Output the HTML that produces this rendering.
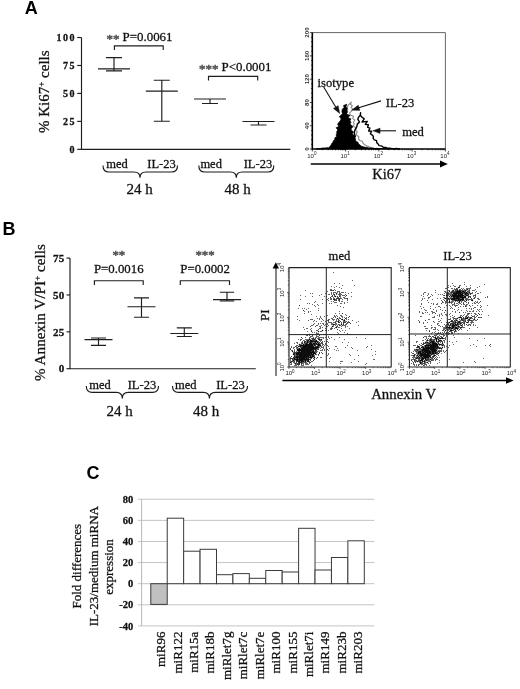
<!DOCTYPE html>
<html><head><meta charset="utf-8"><title>Figure</title>
<style>html,body{margin:0;padding:0;background:#fff;}svg{display:block;}</style></head>
<body><svg width="520" height="689" viewBox="0 0 520 689">
<rect width="520" height="689" fill="#fff"/>
<text x="24.8" y="14.4" font-family="Liberation Sans, sans-serif" font-weight="bold" font-size="18" fill="#000">A</text>
<text x="2.6" y="234.8" font-family="Liberation Sans, sans-serif" font-weight="bold" font-size="18" fill="#000">B</text>
<text x="86.6" y="479.4" font-family="Liberation Sans, sans-serif" font-weight="bold" font-size="18" fill="#000">C</text>
<g stroke="#1e1e1e" stroke-width="1.15" fill="none">
<path d="M81.5 37.52V149.35H290.3"/>
<path d="M77.2 149.35H81.5"/>
<path d="M77.2 121.39H81.5"/>
<path d="M77.2 93.43H81.5"/>
<path d="M77.2 65.48H81.5"/>
<path d="M77.2 37.52H81.5"/>
<path d="M98 68.8H130M114 57.6V70.8M106 57.6H122M106 70.8H122"/>
<path d="M145.8 91.1H177.8M161.8 80.2V121.2M153.8 80.2H169.8M153.8 121.2H169.8"/>
<path d="M194 99H226M210 99V103.5M202 99H218M202 103.5H218"/>
<path d="M242.5 121.5H274.5M258.5 121.5V125M250.5 121.5H266.5M250.5 125H266.5"/>
<path d="M114.4 50V45.8H163.2V50"/>
<path d="M208.5 80.4V76.3H257.7V80.4"/>
</g>
<g font-family="Liberation Serif, serif" font-weight="bold" font-size="10" letter-spacing="1.5" fill="#111" stroke="#111" stroke-width="0.28" text-anchor="end">
<text x="76" y="152.85">0</text>
<text x="76" y="124.89">25</text>
<text x="76" y="96.93">50</text>
<text x="76" y="68.98">75</text>
<text x="76" y="41.02">100</text>
</g>
<text transform="translate(48.6 133) rotate(-90)" font-family="Liberation Serif, serif" font-size="15" fill="#111" stroke="#111" stroke-width="0.28">% Ki67<tspan font-size="9" dy="-5">+</tspan><tspan dy="5"> cells</tspan></text>
<g font-family="Liberation Serif, serif" font-size="12.9" fill="#111" stroke="#111" stroke-width="0.28">
<text x="106.5" y="41.3"><tspan fill="#555" stroke="#555" stroke-width="0.55" dy="1.5">**</tspan><tspan dy="-1.5"> P=0.0061</tspan></text>
<text x="199" y="71.2"><tspan fill="#555" stroke="#555" stroke-width="0.55" dy="1.5">***</tspan><tspan dy="-1.5"> P&lt;0.0001</tspan></text>
</g>
<g stroke="#1a1a1a" stroke-width="1.15" fill="none">
<path d="M103 165.5Q103 172 109 172H134Q140 172 140 177.8Q140 172 146 172H171.5Q177.5 172 177.5 165.5"/>
<path d="M198.8 165.5Q198.8 172 204.8 172H230.3Q236.3 172 236.3 177.8Q236.3 172 242.3 172H267.8Q273.8 172 273.8 165.5"/>
</g>
<g font-family="Liberation Serif, serif" font-size="12.5" fill="#111" stroke="#111" stroke-width="0.28">
<text x="106.3" y="167.7">med</text><text x="147.3" y="167.7">IL-23</text>
<text x="200.4" y="167.7">med</text><text x="243.7" y="167.7">IL-23</text>
</g>
<g font-family="Liberation Serif, serif" font-size="15" fill="#111" stroke="#111" stroke-width="0.28">
<text x="126.5" y="193.5">24 h</text><text x="224.4" y="193.5">48 h</text>
</g>
<g stroke="#1e1e1e" stroke-width="1.15" fill="none">
<path d="M70 258.1V368.7H255.8"/>
<path d="M66.5 368.7H70"/>
<path d="M66.5 331.83H70"/>
<path d="M66.5 294.96H70"/>
<path d="M66.5 258.1H70"/>
<path d="M84.5 339.6H112.5M98.5 338V345.3M91 338H106M91 345.3H106"/>
<path d="M127.5 306.7H155.5M141.5 297.9V317.2M134 297.9H149M134 317.2H149"/>
<path d="M170.3 333.5H198.3M184.3 327.8V336.5M176.8 327.8H191.8M176.8 336.5H191.8"/>
<path d="M213 299.6H241M227 292.2V301M219.8 292.2H234.2M219.8 301H234.2"/>
<path d="M94.4 285V280.7H143.2V285"/>
<path d="M180.3 285V280.7H229.5V285"/>
</g>
<g font-family="Liberation Serif, serif" font-weight="bold" font-size="11" letter-spacing="0.3" fill="#111" stroke="#111" stroke-width="0.28" text-anchor="end">
<text x="64.6" y="372.4">0</text>
<text x="64.6" y="335.53">25</text>
<text x="64.6" y="298.66">50</text>
<text x="64.6" y="261.8">75</text>
</g>
<text transform="translate(45.3 381) rotate(-90)" font-family="Liberation Serif, serif" font-size="15.2" fill="#111" stroke="#111" stroke-width="0.28">% Annexin V/PI<tspan font-size="9" dy="-5">+</tspan><tspan dy="5"> cells</tspan></text>
<g font-family="Liberation Serif, serif" font-size="12.8" fill="#111" stroke="#111" stroke-width="0.28">
<text x="112.4" y="259" fill="#555" stroke="#555" stroke-width="0.55">**</text>
<text x="94" y="272.5">P=0.0016</text>
<text x="195.4" y="259" fill="#555" stroke="#555" stroke-width="0.55">***</text>
<text x="180.3" y="272.5">P=0.0002</text>
</g>
<g stroke="#1a1a1a" stroke-width="1.15" fill="none">
<path d="M86.3 386Q86.3 392.4 92.3 392.4H116.3Q122.3 392.4 122.3 398.5Q122.3 392.4 128.3 392.4H152.5Q158.5 392.4 158.5 386"/>
<path d="M172.5 386Q172.5 392.4 178.5 392.4H203.4Q209.4 392.4 209.4 398.5Q209.4 392.4 215.4 392.4H241.5Q247.5 392.4 247.5 386"/>
</g>
<g font-family="Liberation Serif, serif" font-size="12.5" fill="#111" stroke="#111" stroke-width="0.28">
<text x="89.2" y="388.5">med</text><text x="127.7" y="388.5">IL-23</text>
<text x="175" y="388.5">med</text><text x="216.2" y="388.5">IL-23</text>
</g>
<g font-family="Liberation Serif, serif" font-size="15" fill="#111" stroke="#111" stroke-width="0.28">
<text x="106.5" y="416">24 h</text><text x="193" y="416">48 h</text>
</g>
<path d="M312.3 32.6H445.4V149" stroke="#666" stroke-width="1" fill="none"/>
<path d="M309.8 149H312.3M311 144.34H312.3M311 139.69H312.3M311 135.03H312.3M311 130.38H312.3M309.8 125.72H312.3M311 121.06H312.3M311 116.41H312.3M311 111.75H312.3M311 107.1H312.3M309.8 102.44H312.3M311 97.78H312.3M311 93.13H312.3M311 88.47H312.3M311 83.82H312.3M309.8 79.16H312.3M311 74.5H312.3M311 69.85H312.3M311 65.19H312.3M311 60.54H312.3M309.8 55.88H312.3M311 51.22H312.3M311 46.57H312.3M311 41.91H312.3M311 37.26H312.3M309.8 32.6H312.3M312.3 149V151.5M322.32 149V150.3M328.18 149V150.3M332.33 149V150.3M335.56 149V150.3M338.19 149V150.3M340.42 149V150.3M342.35 149V150.3M344.05 149V150.3M345.57 149V151.5M355.59 149V150.3M361.45 149V150.3M365.61 149V150.3M368.83 149V150.3M371.47 149V150.3M373.7 149V150.3M375.63 149V150.3M377.33 149V150.3M378.85 149V151.5M388.87 149V150.3M394.73 149V150.3M398.88 149V150.3M402.11 149V150.3M404.74 149V150.3M406.97 149V150.3M408.9 149V150.3M410.6 149V150.3M412.12 149V151.5M422.14 149V150.3M428 149V150.3M432.16 149V150.3M435.38 149V150.3M438.02 149V150.3M440.25 149V150.3M442.18 149V150.3M443.88 149V150.3M445.4 149V151.5" stroke="#222" stroke-width="0.8" fill="none"/>
<text transform="translate(308.9 149) rotate(-90)" font-family="Liberation Sans, sans-serif" font-size="6.2" font-weight="bold" text-anchor="middle" fill="#333">0</text>
<text transform="translate(308.9 125.72) rotate(-90)" font-family="Liberation Sans, sans-serif" font-size="6.2" font-weight="bold" text-anchor="middle" fill="#333">40</text>
<text transform="translate(308.9 102.44) rotate(-90)" font-family="Liberation Sans, sans-serif" font-size="6.2" font-weight="bold" text-anchor="middle" fill="#333">80</text>
<text transform="translate(308.9 79.16) rotate(-90)" font-family="Liberation Sans, sans-serif" font-size="6.2" font-weight="bold" text-anchor="middle" fill="#333">120</text>
<text transform="translate(308.9 55.88) rotate(-90)" font-family="Liberation Sans, sans-serif" font-size="6.2" font-weight="bold" text-anchor="middle" fill="#333">160</text>
<text transform="translate(308.9 32.6) rotate(-90)" font-family="Liberation Sans, sans-serif" font-size="6.2" font-weight="bold" text-anchor="middle" fill="#333">200</text>
<text x="311.8" y="157.8" font-family="Liberation Sans, sans-serif" font-size="6" text-anchor="middle" fill="#222">10<tspan font-size="4.5" dy="-2.4">0</tspan></text>
<text x="345.07" y="157.8" font-family="Liberation Sans, sans-serif" font-size="6" text-anchor="middle" fill="#222">10<tspan font-size="4.5" dy="-2.4">1</tspan></text>
<text x="378.35" y="157.8" font-family="Liberation Sans, sans-serif" font-size="6" text-anchor="middle" fill="#222">10<tspan font-size="4.5" dy="-2.4">2</tspan></text>
<text x="411.62" y="157.8" font-family="Liberation Sans, sans-serif" font-size="6" text-anchor="middle" fill="#222">10<tspan font-size="4.5" dy="-2.4">3</tspan></text>
<text x="444.9" y="157.8" font-family="Liberation Sans, sans-serif" font-size="6" text-anchor="middle" fill="#222">10<tspan font-size="4.5" dy="-2.4">4</tspan></text>
<path d="M330 148.96 L331.5 148.3 L333 147.84 L334.47 146.7 L335.94 145.95 L336.71 144.35 L336.99 142.53 L337.71 140.88 L338.25 139.17 L339.82 137.86 L339.21 135.74 L340.88 134.4 L340.61 132.51 L342.33 131.12 L339.97 128.71 L344.96 128.13 L342.59 125.72 L344.74 124.44 L342.59 122.08 L344.08 120.63 L343.39 118.63 L346.29 117.54 L344.65 115.31 L346.65 113.98 L345.62 111.89 L347.14 110.53 L346.76 108.54 L347.44 106.89 L348.13 105.26 L350.28 103.22 L351.3 102.09 L350.58 104.44 L352.33 105.71 L351.14 107.64 L352.88 109.04 L351.67 110.89 L349.76 112.9 L350.23 114.93 L353.43 116.37 L352.8 118.58 L354.88 120.06 L353.33 122.31 L354.31 124.02 L352.96 126.11 L355.19 127.34 L356.3 128.83 L355.66 130.65 L357.37 131.89 L356.07 133.98 L357.1 135.55 L358.85 136.68 L358.58 138.9 L359.92 140.54 L362.39 141.18 L363.04 143.26 L364.27 144.35 L365.73 145.15 L367.04 146.13 L368.75 146.65 L370.33 147.35 L372 147.87 L373.6 148.23 L375.2 148.89 L376.8 148.89 L378.4 148.53 L380 148.8" stroke="#8a8a8a" stroke-width="1.1" fill="none" stroke-linejoin="round"/>
<path d="M316 148.98 L317.75 148.98 L319.5 148.83 L321.25 148.26 L323 148.01 L325.07 148.03 L327.13 147.69 L329.2 147.85 L330.09 146.22 L331.17 144.99 L331.77 143.5 L332.94 142.3 L333.43 140.74 L334.83 139.53 L334.86 137.78 L336.79 136.61 L336.19 134.8 L336.92 133.34 L336.72 131.64 L337.83 130.05 L336.19 127.68 L338.99 126.51 L337.6 124.15 L338.94 122.43 L340.3 120.82 L341.24 118.88 L339.43 116.55 L341.32 115.12 L342.52 113.55 L341.92 111.62 L342.32 109.27 L344.09 107.44 L343.64 105.45 L344.87 105.08 L346.6 104.26 L346 106.66 L347.37 108.23 L346.82 110.28 L347.47 112.03 L346.21 114.32 L349.86 115.25 L348.03 117.7 L350.95 118.88 L349.86 120.81 L350.98 122.25 L349.83 124.14 L351.77 125.42 L352.73 126.89 L350.89 128.95 L351.6 130.62 L353.55 131.89 L351.82 134.25 L354.38 135.25 L354.83 137.31 L355.44 139.36 L355.88 141.59 L357.91 142.14 L358.41 144.09 L360.02 144.93 L361.23 146.15 L363.07 146.79 L364.97 147.21 L366.9 147.49 L368.8 148.02 L370.4 147.89 L372 148.17 L373.6 148.25 L375.2 148.67 L376.8 148.25 L378.4 148.73 L380 148.54 L381.67 148.99 L383.33 148.5 L385 148.72 L386.67 148.81 L388.33 149 L390 148.64Z" stroke="#000" stroke-width="0.8" fill="#000"/>
<path d="M340 148.81 L341.75 149 L343.5 149 L345.25 149 L347 148.45 L348.83 148.25 L350.67 147.95 L352.5 147.78 L352.56 146.08 L352.96 144.21 L352.49 142.24 L353.62 140.43 L352.82 138.4 L355.39 136.37 L354.4 133.7 L354.47 131.16 L355.48 128.82 L356.84 126.62 L357.28 124.12 L359.53 122.07 L357.76 119.18 L358.69 117 L360.15 115.51 L360.56 112.78 L360.46 115.58 L361.87 117.08 L364.26 118.78 L362.07 121.97 L367.29 121.35 L365.26 124.4 L368.36 124.77 L367.61 127.35 L369.97 128.06 L368.58 131.09 L371.59 131.28 L370.36 133.72 L372.03 134.91 L373.36 136.17 L373.17 138.4 L374.33 139.88 L376.51 140.6 L376.82 142.65 L378.07 143.97 L379.14 145.57 L381.46 145.93 L383.26 147.21 L385.65 147.46 L388 148.32 L389.71 148.2 L391.43 148.47 L393.14 148.68 L394.86 148.62 L396.57 148.5 L398.29 148.89 L400 148.79" stroke="#000" stroke-width="1.4" fill="none" stroke-linejoin="round"/>
<path d="M312.3 32.6V149H445.4" stroke="#000" stroke-width="1.6" fill="none"/>
<g font-family="Liberation Serif, serif" font-size="12.6" fill="#111" stroke="#111" stroke-width="0.28"><text x="317.6" y="86.5">isotype</text><text x="385.7" y="106.6">IL-23</text><text x="402.2" y="136">med</text></g>
<g stroke="#111" stroke-width="1.1" fill="none"><path d="M323.7 87L336 107.5"/><path d="M381 100.9L357 108.3"/><path d="M396 130.8H378"/></g>
<path d="M339.9 113.8L333.37 108.4L338.16 105.51Z" fill="#111" stroke="#111" stroke-width="0.28"/>
<path d="M351.5 110.2L358.29 105.12L359.97 110.47Z" fill="#111" stroke="#111" stroke-width="0.28"/>
<path d="M372.6 130.8L380.1 128L380.1 133.6Z" fill="#111" stroke="#111" stroke-width="0.28"/>
<path d="M310.8 164H442" stroke="#000" stroke-width="1.5"/>
<path d="M447.8 164L440 160.6V167.4Z" fill="#000"/>
<text x="372.2" y="178.6" font-family="Liberation Serif, serif" font-size="14.5" fill="#111" stroke="#111" stroke-width="0.28">Ki67</text>
<defs><filter id="bl" x="-5%" y="-5%" width="110%" height="110%"><feGaussianBlur stdDeviation="0.4"/></filter></defs>
<g filter="url(#bl)"><path fill="#111" stroke="#111" stroke-width="0.28" d="M309 355h1v1h-1zM303 359h1v1h-1zM303 352h1v1h-1zM317 342h1v1h-1zM307 354h1v1h-1zM312 345h1v1h-1zM306 345h1v1h-1zM302 352h1v1h-1zM293 354h1v1h-1zM295 359h1v1h-1zM303 351h1v1h-1zM302 347h1v1h-1zM306 352h1v1h-1zM307 345h1v1h-1zM306 349h1v1h-1zM309 350h1v1h-1zM311 345h1v1h-1zM300 353h1v1h-1zM300 356h1v1h-1zM304 359h1v1h-1zM309 334h1v1h-1zM302 351h1v1h-1zM309 343h1v1h-1zM303 350h1v1h-1zM306 344h1v1h-1zM306 353h1v1h-1zM317 346h1v1h-1zM303 355h1v1h-1zM307 359h1v1h-1zM306 350h1v1h-1zM302 350h1v1h-1zM304 352h1v1h-1zM310 352h1v1h-1zM302 353h1v1h-1zM318 343h1v1h-1zM308 345h1v1h-1zM299 358h1v1h-1zM298 353h1v1h-1zM296 357h1v1h-1zM310 344h1v1h-1zM299 361h1v1h-1zM308 353h1v1h-1zM312 344h1v1h-1zM301 359h1v1h-1zM314 345h1v1h-1zM299 353h1v1h-1zM301 351h1v1h-1zM298 349h1v1h-1zM307 350h1v1h-1zM292 351h1v1h-1zM308 355h1v1h-1zM300 354h1v1h-1zM304 356h1v1h-1zM306 356h1v1h-1zM305 350h1v1h-1zM295 357h1v1h-1zM306 355h1v1h-1zM305 348h1v1h-1zM305 356h1v1h-1zM306 346h1v1h-1zM306 348h1v1h-1zM307 352h1v1h-1zM301 354h1v1h-1zM304 342h1v1h-1zM309 352h1v1h-1zM304 345h1v1h-1zM305 347h1v1h-1zM310 350h1v1h-1zM304 348h1v1h-1zM304 357h1v1h-1zM302 358h1v1h-1zM307 348h1v1h-1zM319 339h1v1h-1zM308 347h1v1h-1zM300 346h1v1h-1zM299 352h1v1h-1zM307 355h1v1h-1zM310 342h1v1h-1zM313 338h1v1h-1zM310 351h1v1h-1zM311 357h1v1h-1zM305 355h1v1h-1zM314 352h1v1h-1zM305 351h1v1h-1zM310 348h1v1h-1zM308 356h1v1h-1zM301 358h1v1h-1zM309 349h1v1h-1zM308 351h1v1h-1zM313 348h1v1h-1zM299 354h1v1h-1zM313 349h1v1h-1zM301 350h1v1h-1zM304 347h1v1h-1zM301 357h1v1h-1zM297 360h1v1h-1zM302 356h1v1h-1zM312 348h1v1h-1zM309 345h1v1h-1zM310 341h1v1h-1zM316 348h1v1h-1zM301 348h1v1h-1zM314 348h1v1h-1zM309 348h1v1h-1zM308 350h1v1h-1zM311 343h1v1h-1zM303 347h1v1h-1zM299 344h1v1h-1zM311 348h1v1h-1zM307 353h1v1h-1zM303 348h1v1h-1zM304 350h1v1h-1zM297 350h1v1h-1zM299 351h1v1h-1zM298 359h1v1h-1zM316 347h1v1h-1zM298 361h1v1h-1zM311 353h1v1h-1zM299 363h1v1h-1zM300 357h1v1h-1zM305 360h1v1h-1zM305 345h1v1h-1zM307 346h1v1h-1zM306 347h1v1h-1zM313 352h1v1h-1zM296 356h1v1h-1zM311 347h1v1h-1zM300 358h1v1h-1zM310 345h1v1h-1zM308 357h1v1h-1zM318 347h1v1h-1zM307 349h1v1h-1zM302 345h1v1h-1zM309 357h1v1h-1zM313 343h1v1h-1zM302 354h1v1h-1zM299 348h1v1h-1zM297 353h1v1h-1zM308 348h1v1h-1zM306 354h1v1h-1zM302 349h1v1h-1zM301 355h1v1h-1zM305 357h1v1h-1zM303 345h1v1h-1zM308 352h1v1h-1zM297 357h1v1h-1zM315 342h1v1h-1zM299 357h1v1h-1zM311 352h1v1h-1zM313 346h1v1h-1zM307 344h1v1h-1zM302 348h1v1h-1zM307 351h1v1h-1zM310 349h1v1h-1zM312 351h1v1h-1zM300 350h1v1h-1zM300 360h1v1h-1zM303 358h1v1h-1zM301 353h1v1h-1zM304 349h1v1h-1zM302 355h1v1h-1zM308 349h1v1h-1zM304 351h1v1h-1zM302 357h1v1h-1zM321 339h1v1h-1zM309 346h1v1h-1zM305 344h1v1h-1zM305 354h1v1h-1zM305 352h1v1h-1zM307 347h1v1h-1zM306 358h1v1h-1zM308 360h1v1h-1zM311 349h1v1h-1zM305 359h1v1h-1zM303 356h1v1h-1zM300 349h1v1h-1zM312 356h1v1h-1zM314 347h1v1h-1zM313 350h1v1h-1zM314 357h1v1h-1zM299 362h1v1h-1zM294 356h1v1h-1zM305 349h1v1h-1zM312 355h1v1h-1zM297 354h1v1h-1zM303 354h1v1h-1zM298 356h1v1h-1zM304 358h1v1h-1zM313 347h1v1h-1zM298 352h1v1h-1zM309 353h1v1h-1zM310 346h1v1h-1zM304 354h1v1h-1zM312 341h1v1h-1zM299 356h1v1h-1zM311 344h1v1h-1zM308 361h1v1h-1zM297 358h1v1h-1zM303 349h1v1h-1zM316 340h1v1h-1zM304 355h1v1h-1zM306 357h1v1h-1zM298 357h1v1h-1zM307 356h1v1h-1zM310 340h1v1h-1zM315 341h1v1h-1zM306 351h1v1h-1zM312 347h1v1h-1zM296 354h1v1h-1zM311 340h1v1h-1zM300 355h1v1h-1zM309 344h1v1h-1zM309 351h1v1h-1zM304 346h1v1h-1zM297 356h1v1h-1zM301 356h1v1h-1zM315 348h1v1h-1zM301 362h1v1h-1zM303 353h1v1h-1zM314 353h1v1h-1zM309 347h1v1h-1zM303 346h1v1h-1zM299 359h1v1h-1zM300 359h1v1h-1zM299 350h1v1h-1zM308 340h1v1h-1zM296 360h1v1h-1zM299 360h1v1h-1zM307 342h1v1h-1zM318 344h1v1h-1zM294 353h1v1h-1zM310 353h1v1h-1zM295 363h1v1h-1zM307 361h1v1h-1zM315 353h1v1h-1zM302 359h1v1h-1zM304 353h1v1h-1zM302 343h1v1h-1zM293 360h1v1h-1zM308 344h1v1h-1zM316 341h1v1h-1zM314 344h1v1h-1zM310 356h1v1h-1zM299 355h1v1h-1zM298 346h1v1h-1zM315 347h1v1h-1zM313 351h1v1h-1zM305 353h1v1h-1zM312 354h1v1h-1zM305 346h1v1h-1zM309 354h1v1h-1zM297 352h1v1h-1zM320 345h1v1h-1zM312 349h1v1h-1zM312 346h1v1h-1zM314 343h1v1h-1zM309 339h1v1h-1zM306 359h1v1h-1zM308 354h1v1h-1zM296 353h1v1h-1zM315 349h1v1h-1zM310 347h1v1h-1zM319 345h1v1h-1zM308 346h1v1h-1zM303 357h1v1h-1zM311 350h1v1h-1zM296 359h1v1h-1zM301 345h1v1h-1zM298 354h1v1h-1zM311 346h1v1h-1zM310 355h1v1h-1zM313 353h1v1h-1zM313 340h1v1h-1zM313 354h1v1h-1zM313 356h1v1h-1zM301 360h1v1h-1zM308 359h1v1h-1zM299 349h1v1h-1zM302 360h1v1h-1zM317 347h1v1h-1zM303 344h1v1h-1zM318 345h1v1h-1zM305 361h1v1h-1zM301 352h1v1h-1zM314 341h1v1h-1zM310 357h1v1h-1zM311 341h1v1h-1zM310 343h1v1h-1zM301 349h1v1h-1zM300 345h1v1h-1zM302 361h1v1h-1zM312 352h1v1h-1zM297 359h1v1h-1zM294 359h1v1h-1zM297 349h1v1h-1zM298 350h1v1h-1zM307 341h1v1h-1zM301 361h1v1h-1zM300 352h1v1h-1zM303 361h1v1h-1zM294 358h1v1h-1zM317 344h1v1h-1zM316 343h1v1h-1zM308 358h1v1h-1zM311 354h1v1h-1zM306 343h1v1h-1zM290 362h1v1h-1zM314 339h1v1h-1zM319 344h1v1h-1zM322 330h1v1h-1zM335 296h1v1h-1zM336 293h1v1h-1zM334 299h1v1h-1zM341 324h1v1h-1zM333 324h1v1h-1zM338 321h1v1h-1zM332 326h1v1h-1zM342 319h1v1h-1zM337 318h1v1h-1zM336 327h1v1h-1zM344 320h1v1h-1zM318 331h1v1h-1z"/>
<path fill="#3a3a3a" d="M297 347h1v1h-1zM300 362h1v1h-1zM292 358h1v1h-1zM312 335h1v1h-1zM312 334h1v1h-1zM315 343h1v1h-1zM296 361h1v1h-1zM312 340h1v1h-1zM315 340h1v1h-1zM296 358h1v1h-1zM297 364h1v1h-1zM294 352h1v1h-1zM317 348h1v1h-1zM293 358h1v1h-1zM307 358h1v1h-1zM296 362h1v1h-1zM311 355h1v1h-1zM311 358h1v1h-1zM295 352h1v1h-1zM316 352h1v1h-1zM297 355h1v1h-1zM315 346h1v1h-1zM305 343h1v1h-1zM305 362h1v1h-1zM311 342h1v1h-1zM311 351h1v1h-1zM304 341h1v1h-1zM297 361h1v1h-1zM293 353h1v1h-1zM310 354h1v1h-1zM315 354h1v1h-1zM291 356h1v1h-1zM315 338h1v1h-1zM318 339h1v1h-1zM316 344h1v1h-1zM304 360h1v1h-1zM315 350h1v1h-1zM301 346h1v1h-1zM294 361h1v1h-1zM290 349h1v1h-1zM313 360h1v1h-1zM309 362h1v1h-1zM318 349h1v1h-1zM298 351h1v1h-1zM291 358h1v1h-1zM317 341h1v1h-1zM291 361h1v1h-1zM308 342h1v1h-1zM313 355h1v1h-1zM301 363h1v1h-1zM296 355h1v1h-1zM310 359h1v1h-1zM293 357h1v1h-1zM298 355h1v1h-1zM315 345h1v1h-1zM314 349h1v1h-1zM296 352h1v1h-1zM315 344h1v1h-1zM290 358h1v1h-1zM307 360h1v1h-1zM312 338h1v1h-1zM298 362h1v1h-1zM315 351h1v1h-1zM319 353h1v1h-1zM307 340h1v1h-1zM307 357h1v1h-1zM308 341h1v1h-1zM299 364h1v1h-1zM302 346h1v1h-1zM307 335h1v1h-1zM298 364h1v1h-1zM322 343h1v1h-1zM309 359h1v1h-1zM294 355h1v1h-1zM292 359h1v1h-1zM299 346h1v1h-1zM311 356h1v1h-1zM294 354h1v1h-1zM305 358h1v1h-1zM298 360h1v1h-1zM319 352h1v1h-1zM313 341h1v1h-1zM298 363h1v1h-1zM297 363h1v1h-1zM306 360h1v1h-1zM307 343h1v1h-1zM321 342h1v1h-1zM318 346h1v1h-1zM319 342h1v1h-1zM316 350h1v1h-1zM301 347h1v1h-1zM313 344h1v1h-1zM295 346h1v1h-1zM294 351h1v1h-1zM312 350h1v1h-1zM294 357h1v1h-1zM303 360h1v1h-1zM305 341h1v1h-1zM292 361h1v1h-1zM316 346h1v1h-1zM301 364h1v1h-1zM309 341h1v1h-1zM325 334h1v1h-1zM301 337h1v1h-1zM317 357h1v1h-1zM323 334h1v1h-1zM310 362h1v1h-1zM314 359h1v1h-1zM318 354h1v1h-1zM327 349h1v1h-1zM322 353h1v1h-1zM312 339h1v1h-1zM319 335h1v1h-1zM337 296h1v1h-1zM332 295h1v1h-1zM332 296h1v1h-1zM337 298h1v1h-1zM334 294h1v1h-1zM338 298h1v1h-1zM331 290h1v1h-1zM347 298h1v1h-1zM336 300h1v1h-1zM333 290h1v1h-1zM339 294h1v1h-1zM334 300h1v1h-1zM339 300h1v1h-1zM334 295h1v1h-1zM339 299h1v1h-1zM339 296h1v1h-1zM333 299h1v1h-1zM330 297h1v1h-1zM346 295h1v1h-1zM336 298h1v1h-1zM339 298h1v1h-1zM331 328h1v1h-1zM342 313h1v1h-1zM347 322h1v1h-1zM342 325h1v1h-1zM343 322h1v1h-1zM334 324h1v1h-1zM345 318h1v1h-1zM349 316h1v1h-1zM343 324h1v1h-1zM326 326h1v1h-1zM335 322h1v1h-1zM339 325h1v1h-1zM338 319h1v1h-1zM349 322h1v1h-1zM340 321h1v1h-1zM343 323h1v1h-1zM339 322h1v1h-1zM341 319h1v1h-1zM338 324h1v1h-1zM337 329h1v1h-1zM328 320h1v1h-1zM338 322h1v1h-1zM344 322h1v1h-1zM350 323h1v1h-1zM340 318h1v1h-1zM299 305h1v1h-1zM303 310h1v1h-1zM311 331h1v1h-1zM313 324h1v1h-1z"/>
<path fill="#666" d="M296 347h1v1h-1zM295 365h1v1h-1zM294 350h1v1h-1zM309 337h1v1h-1zM306 364h1v1h-1zM294 360h1v1h-1zM300 361h1v1h-1zM296 351h1v1h-1zM294 349h1v1h-1zM323 348h1v1h-1zM297 345h1v1h-1zM308 339h1v1h-1zM303 362h1v1h-1zM295 355h1v1h-1zM291 362h1v1h-1zM304 340h1v1h-1zM292 350h1v1h-1zM300 347h1v1h-1zM300 344h1v1h-1zM311 334h1v1h-1zM293 348h1v1h-1zM302 362h1v1h-1zM293 352h1v1h-1zM306 339h1v1h-1zM296 348h1v1h-1zM312 336h1v1h-1zM316 337h1v1h-1zM314 358h1v1h-1zM321 352h1v1h-1zM303 364h1v1h-1zM320 331h1v1h-1zM302 365h1v1h-1zM302 338h1v1h-1zM318 338h1v1h-1zM309 363h1v1h-1zM293 361h1v1h-1zM292 360h1v1h-1zM306 341h1v1h-1zM294 363h1v1h-1zM297 342h1v1h-1zM320 340h1v1h-1zM301 343h1v1h-1zM305 337h1v1h-1zM300 351h1v1h-1zM291 364h1v1h-1zM295 358h1v1h-1zM321 350h1v1h-1zM322 344h1v1h-1zM321 340h1v1h-1zM294 347h1v1h-1zM320 339h1v1h-1zM320 350h1v1h-1zM309 361h1v1h-1zM319 346h1v1h-1zM295 354h1v1h-1zM317 351h1v1h-1zM301 365h1v1h-1zM316 354h1v1h-1zM320 343h1v1h-1zM307 339h1v1h-1zM309 342h1v1h-1zM290 360h1v1h-1zM316 351h1v1h-1zM313 345h1v1h-1zM320 337h1v1h-1zM303 363h1v1h-1zM305 339h1v1h-1zM293 347h1v1h-1zM297 348h1v1h-1zM312 353h1v1h-1zM315 352h1v1h-1zM306 362h1v1h-1zM302 342h1v1h-1zM322 345h1v1h-1zM310 360h1v1h-1zM303 365h1v1h-1zM313 337h1v1h-1zM307 364h1v1h-1zM295 356h1v1h-1zM316 336h1v1h-1zM316 349h1v1h-1zM314 340h1v1h-1zM320 344h1v1h-1zM295 353h1v1h-1zM305 342h1v1h-1zM300 340h1v1h-1zM293 359h1v1h-1zM295 364h1v1h-1zM309 335h1v1h-1zM303 340h1v1h-1zM309 356h1v1h-1zM301 344h1v1h-1zM322 341h1v1h-1zM290 361h1v1h-1zM296 346h1v1h-1zM313 358h1v1h-1zM304 344h1v1h-1zM297 343h1v1h-1zM298 365h1v1h-1zM296 364h1v1h-1zM311 338h1v1h-1zM299 345h1v1h-1zM318 341h1v1h-1zM296 363h1v1h-1zM302 341h1v1h-1zM296 365h1v1h-1zM306 340h1v1h-1zM319 340h1v1h-1zM319 347h1v1h-1zM313 339h1v1h-1zM322 349h1v1h-1zM323 346h1v1h-1zM305 364h1v1h-1zM318 348h1v1h-1zM324 341h1v1h-1zM306 363h1v1h-1zM314 356h1v1h-1zM307 363h1v1h-1zM310 336h1v1h-1zM291 363h1v1h-1zM320 346h1v1h-1zM316 335h1v1h-1zM311 336h1v1h-1zM304 362h1v1h-1zM312 361h1v1h-1zM302 363h1v1h-1zM317 338h1v1h-1zM294 362h1v1h-1zM328 342h1v1h-1zM312 332h1v1h-1zM296 342h1v1h-1zM338 333h1v1h-1zM327 345h1v1h-1zM311 361h1v1h-1zM304 343h1v1h-1zM298 348h1v1h-1zM317 336h1v1h-1zM310 337h1v1h-1zM321 357h1v1h-1zM310 334h1v1h-1zM328 337h1v1h-1zM312 343h1v1h-1zM304 361h1v1h-1zM321 347h1v1h-1zM328 322h1v1h-1zM306 342h1v1h-1zM298 339h1v1h-1zM321 343h1v1h-1zM291 346h1v1h-1zM318 336h1v1h-1zM323 338h1v1h-1zM293 362h1v1h-1zM319 328h1v1h-1zM311 365h1v1h-1zM317 345h1v1h-1zM314 332h1v1h-1zM326 353h1v1h-1zM290 359h1v1h-1zM322 342h1v1h-1zM326 341h1v1h-1zM294 343h1v1h-1zM320 357h1v1h-1zM317 349h1v1h-1zM322 347h1v1h-1zM327 341h1v1h-1zM323 337h1v1h-1zM318 337h1v1h-1zM312 357h1v1h-1zM308 364h1v1h-1zM327 339h1v1h-1zM328 330h1v1h-1zM309 338h1v1h-1zM325 328h1v1h-1zM318 342h1v1h-1zM329 358h1v1h-1zM318 355h1v1h-1zM322 350h1v1h-1zM325 343h1v1h-1zM325 337h1v1h-1zM305 363h1v1h-1zM307 331h1v1h-1zM290 364h1v1h-1zM316 333h1v1h-1zM323 344h1v1h-1zM321 346h1v1h-1zM313 342h1v1h-1zM301 339h1v1h-1zM319 338h1v1h-1zM326 330h1v1h-1zM316 358h1v1h-1zM306 335h1v1h-1zM327 355h1v1h-1zM320 348h1v1h-1zM290 348h1v1h-1zM324 345h1v1h-1zM298 358h1v1h-1zM314 351h1v1h-1zM315 337h1v1h-1zM291 350h1v1h-1zM296 345h1v1h-1zM305 334h1v1h-1zM328 350h1v1h-1zM328 336h1v1h-1zM321 321h1v1h-1zM325 344h1v1h-1zM314 342h1v1h-1zM322 337h1v1h-1zM294 365h1v1h-1zM312 342h1v1h-1zM319 337h1v1h-1zM290 357h1v1h-1zM331 337h1v1h-1zM324 349h1v1h-1zM321 337h1v1h-1zM317 334h1v1h-1zM291 347h1v1h-1zM324 350h1v1h-1zM318 333h1v1h-1zM314 355h1v1h-1zM315 339h1v1h-1zM319 343h1v1h-1zM301 342h1v1h-1zM323 347h1v1h-1zM310 339h1v1h-1zM300 339h1v1h-1zM310 358h1v1h-1zM320 341h1v1h-1zM331 286h1v1h-1zM325 293h1v1h-1zM341 303h1v1h-1zM340 298h1v1h-1zM337 292h1v1h-1zM331 301h1v1h-1zM337 305h1v1h-1zM343 307h1v1h-1zM342 292h1v1h-1zM348 293h1v1h-1zM342 295h1v1h-1zM333 298h1v1h-1zM330 298h1v1h-1zM340 293h1v1h-1zM329 294h1v1h-1zM327 291h1v1h-1zM343 295h1v1h-1zM339 301h1v1h-1zM338 294h1v1h-1zM327 299h1v1h-1zM341 288h1v1h-1zM333 292h1v1h-1zM328 300h1v1h-1zM336 299h1v1h-1zM351 296h1v1h-1zM331 289h1v1h-1zM333 294h1v1h-1zM335 302h1v1h-1zM345 292h1v1h-1zM345 298h1v1h-1zM335 299h1v1h-1zM344 298h1v1h-1zM324 296h1v1h-1zM336 302h1v1h-1zM339 293h1v1h-1zM339 295h1v1h-1zM328 298h1v1h-1zM341 294h1v1h-1zM351 292h1v1h-1zM338 297h1v1h-1zM340 306h1v1h-1zM340 294h1v1h-1zM331 292h1v1h-1zM326 299h1v1h-1zM341 298h1v1h-1zM347 302h1v1h-1zM339 292h1v1h-1zM347 300h1v1h-1zM339 287h1v1h-1zM345 294h1v1h-1zM326 296h1v1h-1zM344 302h1v1h-1zM335 300h1v1h-1zM331 303h1v1h-1zM326 301h1v1h-1zM331 296h1v1h-1zM332 290h1v1h-1zM330 290h1v1h-1zM341 301h1v1h-1zM337 291h1v1h-1zM328 294h1v1h-1zM346 298h1v1h-1zM343 297h1v1h-1zM338 300h1v1h-1zM334 289h1v1h-1zM343 292h1v1h-1zM337 297h1v1h-1zM344 303h1v1h-1zM340 297h1v1h-1zM344 297h1v1h-1zM330 289h1v1h-1zM330 299h1v1h-1zM339 291h1v1h-1zM334 302h1v1h-1zM333 301h1v1h-1zM334 298h1v1h-1zM334 287h1v1h-1zM335 290h1v1h-1zM342 299h1v1h-1zM331 299h1v1h-1zM342 301h1v1h-1zM333 293h1v1h-1zM334 292h1v1h-1zM344 295h1v1h-1zM336 294h1v1h-1zM338 291h1v1h-1zM341 292h1v1h-1zM331 298h1v1h-1zM331 294h1v1h-1zM335 292h1v1h-1zM333 297h1v1h-1zM338 299h1v1h-1zM329 303h1v1h-1zM347 299h1v1h-1zM319 295h1v1h-1zM340 296h1v1h-1zM340 295h1v1h-1zM334 296h1v1h-1zM334 283h1v1h-1zM324 316h1v1h-1zM348 322h1v1h-1zM333 325h1v1h-1zM335 316h1v1h-1zM335 321h1v1h-1zM344 325h1v1h-1zM341 322h1v1h-1zM335 317h1v1h-1zM337 332h1v1h-1zM336 321h1v1h-1zM329 319h1v1h-1zM325 330h1v1h-1zM335 313h1v1h-1zM345 326h1v1h-1zM333 317h1v1h-1zM346 324h1v1h-1zM344 332h1v1h-1zM341 316h1v1h-1zM347 333h1v1h-1zM339 324h1v1h-1zM340 315h1v1h-1zM339 317h1v1h-1zM344 319h1v1h-1zM329 322h1v1h-1zM336 320h1v1h-1zM346 315h1v1h-1zM327 326h1v1h-1zM334 316h1v1h-1zM342 317h1v1h-1zM342 330h1v1h-1zM337 325h1v1h-1zM345 321h1v1h-1zM331 323h1v1h-1zM350 334h1v1h-1zM341 323h1v1h-1zM348 321h1v1h-1zM335 323h1v1h-1zM346 323h1v1h-1zM340 325h1v1h-1zM319 326h1v1h-1zM332 319h1v1h-1zM337 326h1v1h-1zM339 330h1v1h-1zM331 327h1v1h-1zM343 320h1v1h-1zM358 325h1v1h-1zM345 314h1v1h-1zM331 329h1v1h-1zM347 326h1v1h-1zM336 324h1v1h-1zM356 322h1v1h-1zM349 328h1v1h-1zM335 325h1v1h-1zM339 327h1v1h-1zM345 325h1v1h-1zM331 318h1v1h-1zM337 316h1v1h-1zM339 320h1v1h-1zM327 320h1v1h-1zM332 324h1v1h-1zM334 315h1v1h-1zM342 316h1v1h-1zM347 334h1v1h-1zM335 327h1v1h-1zM325 321h1v1h-1zM336 326h1v1h-1zM336 319h1v1h-1zM339 313h1v1h-1zM358 321h1v1h-1zM323 320h1v1h-1zM339 318h1v1h-1zM344 317h1v1h-1zM337 321h1v1h-1zM343 321h1v1h-1zM345 327h1v1h-1zM343 325h1v1h-1zM346 318h1v1h-1zM338 320h1v1h-1zM331 322h1v1h-1zM332 323h1v1h-1zM334 328h1v1h-1zM340 331h1v1h-1zM328 325h1v1h-1zM334 322h1v1h-1zM333 322h1v1h-1zM339 337h1v1h-1zM346 319h1v1h-1zM334 319h1v1h-1zM327 323h1v1h-1zM345 322h1v1h-1zM347 323h1v1h-1zM346 321h1v1h-1zM332 328h1v1h-1zM333 326h1v1h-1zM338 327h1v1h-1zM336 315h1v1h-1zM348 317h1v1h-1zM332 318h1v1h-1zM330 329h1v1h-1zM345 324h1v1h-1zM346 317h1v1h-1zM352 320h1v1h-1zM341 315h1v1h-1zM348 319h1v1h-1zM335 324h1v1h-1zM330 322h1v1h-1zM341 328h1v1h-1zM345 330h1v1h-1zM344 321h1v1h-1zM333 319h1v1h-1zM341 326h1v1h-1zM331 324h1v1h-1zM336 323h1v1h-1zM327 315h1v1h-1zM333 320h1v1h-1zM316 330h1v1h-1zM312 304h1v1h-1zM308 311h1v1h-1zM308 308h1v1h-1zM310 319h1v1h-1zM320 323h1v1h-1zM318 329h1v1h-1zM310 326h1v1h-1zM318 305h1v1h-1zM318 310h1v1h-1zM312 296h1v1h-1zM317 304h1v1h-1zM308 312h1v1h-1zM321 318h1v1h-1zM304 313h1v1h-1zM314 305h1v1h-1zM322 303h1v1h-1zM302 308h1v1h-1zM308 320h1v1h-1zM312 293h1v1h-1zM322 327h1v1h-1zM322 299h1v1h-1zM311 325h1v1h-1zM320 326h1v1h-1zM297 319h1v1h-1zM305 296h1v1h-1zM310 293h1v1h-1zM304 308h1v1h-1zM307 303h1v1h-1zM310 311h1v1h-1zM300 299h1v1h-1zM305 290h1v1h-1zM311 328h1v1h-1zM303 327h1v1h-1zM306 309h1v1h-1zM318 308h1v1h-1zM310 329h1v1h-1zM298 308h1v1h-1zM304 311h1v1h-1zM311 319h1v1h-1zM304 329h1v1h-1zM323 323h1v1h-1zM297 316h1v1h-1zM309 303h1v1h-1zM315 306h1v1h-1zM321 294h1v1h-1zM300 295h1v1h-1zM315 301h1v1h-1zM299 320h1v1h-1zM320 316h1v1h-1zM314 302h1v1h-1zM322 323h1v1h-1zM320 317h1v1h-1zM311 330h1v1h-1zM320 328h1v1h-1zM314 323h1v1h-1zM321 331h1v1h-1zM307 328h1v1h-1zM325 324h1v1h-1zM314 320h1v1h-1zM313 321h1v1h-1zM322 319h1v1h-1zM318 323h1v1h-1zM327 324h1v1h-1zM317 330h1v1h-1zM316 316h1v1h-1zM312 325h1v1h-1zM315 326h1v1h-1zM324 325h1v1h-1zM316 332h1v1h-1zM317 333h1v1h-1zM330 328h1v1h-1zM328 319h1v1h-1zM316 321h1v1h-1zM312 319h1v1h-1zM319 318h1v1h-1zM319 319h1v1h-1zM321 325h1v1h-1zM323 324h1v1h-1zM320 327h1v1h-1zM328 321h1v1h-1zM316 325h1v1h-1zM318 324h1v1h-1zM317 318h1v1h-1zM317 325h1v1h-1zM311 314h1v1h-1zM306 328h1v1h-1zM336 346h1v1h-1zM348 342h1v1h-1zM375 351h1v1h-1zM328 354h1v1h-1zM335 346h1v1h-1zM367 346h1v1h-1zM340 361h1v1h-1zM340 363h1v1h-1zM329 338h1v1h-1zM375 354h1v1h-1zM354 359h1v1h-1zM342 361h1v1h-1zM341 361h1v1h-1zM351 362h1v1h-1zM374 359h1v1h-1zM334 349h1v1h-1zM371 349h1v1h-1zM338 350h1v1h-1zM334 339h1v1h-1zM356 337h1v1h-1zM347 345h1v1h-1zM366 347h1v1h-1zM349 354h1v1h-1zM336 350h1v1h-1zM337 348h1v1h-1zM366 363h1v1h-1zM373 359h1v1h-1zM329 348h1v1h-1zM345 347h1v1h-1zM350 355h1v1h-1zM328 353h1v1h-1zM330 357h1v1h-1zM372 355h1v1h-1zM365 364h1v1h-1zM371 345h1v1h-1zM357 350h1v1h-1zM352 348h1v1h-1zM328 346h1v1h-1zM329 361h1v1h-1zM365 338h1v1h-1zM358 361h1v1h-1zM358 355h1v1h-1zM351 347h1v1h-1zM344 339h1v1h-1zM342 342h1v1h-1zM342 285h1v1h-1zM339 311h1v1h-1zM336 286h1v1h-1zM354 285h1v1h-1zM331 293h1v1h-1zM340 303h1v1h-1zM339 283h1v1h-1zM345 296h1v1h-1zM333 272h1v1h-1zM352 280h1v1h-1z"/></g>
<g filter="url(#bl)"><path fill="#111" stroke="#111" stroke-width="0.28" d="M436 338h1v1h-1zM425 352h1v1h-1zM428 351h1v1h-1zM424 348h1v1h-1zM435 337h1v1h-1zM422 349h1v1h-1zM433 342h1v1h-1zM434 347h1v1h-1zM420 353h1v1h-1zM440 338h1v1h-1zM433 347h1v1h-1zM436 339h1v1h-1zM433 350h1v1h-1zM433 353h1v1h-1zM427 352h1v1h-1zM427 362h1v1h-1zM423 347h1v1h-1zM421 353h1v1h-1zM432 346h1v1h-1zM427 355h1v1h-1zM424 357h1v1h-1zM426 345h1v1h-1zM432 342h1v1h-1zM428 356h1v1h-1zM425 350h1v1h-1zM422 346h1v1h-1zM428 349h1v1h-1zM421 354h1v1h-1zM438 343h1v1h-1zM432 353h1v1h-1zM433 346h1v1h-1zM427 351h1v1h-1zM431 341h1v1h-1zM435 345h1v1h-1zM434 348h1v1h-1zM426 347h1v1h-1zM436 350h1v1h-1zM432 343h1v1h-1zM426 352h1v1h-1zM430 346h1v1h-1zM426 348h1v1h-1zM422 358h1v1h-1zM430 355h1v1h-1zM433 345h1v1h-1zM433 341h1v1h-1zM438 353h1v1h-1zM430 348h1v1h-1zM428 345h1v1h-1zM421 356h1v1h-1zM426 357h1v1h-1zM422 353h1v1h-1zM435 351h1v1h-1zM417 357h1v1h-1zM419 352h1v1h-1zM432 352h1v1h-1zM422 355h1v1h-1zM432 348h1v1h-1zM428 353h1v1h-1zM430 357h1v1h-1zM419 357h1v1h-1zM418 353h1v1h-1zM432 341h1v1h-1zM437 345h1v1h-1zM424 350h1v1h-1zM430 339h1v1h-1zM439 348h1v1h-1zM427 347h1v1h-1zM428 355h1v1h-1zM436 346h1v1h-1zM425 358h1v1h-1zM422 359h1v1h-1zM425 346h1v1h-1zM433 348h1v1h-1zM422 357h1v1h-1zM425 348h1v1h-1zM419 355h1v1h-1zM429 347h1v1h-1zM428 357h1v1h-1zM429 352h1v1h-1zM427 342h1v1h-1zM428 352h1v1h-1zM431 347h1v1h-1zM427 354h1v1h-1zM436 348h1v1h-1zM432 344h1v1h-1zM430 359h1v1h-1zM427 345h1v1h-1zM430 351h1v1h-1zM430 342h1v1h-1zM421 355h1v1h-1zM432 347h1v1h-1zM442 347h1v1h-1zM422 352h1v1h-1zM427 349h1v1h-1zM427 340h1v1h-1zM435 347h1v1h-1zM428 348h1v1h-1zM417 361h1v1h-1zM435 346h1v1h-1zM430 352h1v1h-1zM426 354h1v1h-1zM429 345h1v1h-1zM442 345h1v1h-1zM429 348h1v1h-1zM422 351h1v1h-1zM426 349h1v1h-1zM430 347h1v1h-1zM424 353h1v1h-1zM432 345h1v1h-1zM425 355h1v1h-1zM436 340h1v1h-1zM431 348h1v1h-1zM425 347h1v1h-1zM429 356h1v1h-1zM428 354h1v1h-1zM423 356h1v1h-1zM431 350h1v1h-1zM429 350h1v1h-1zM419 351h1v1h-1zM430 349h1v1h-1zM427 353h1v1h-1zM434 345h1v1h-1zM421 359h1v1h-1zM424 351h1v1h-1zM417 355h1v1h-1zM425 354h1v1h-1zM434 350h1v1h-1zM433 343h1v1h-1zM435 353h1v1h-1zM431 349h1v1h-1zM430 345h1v1h-1zM431 354h1v1h-1zM433 344h1v1h-1zM428 350h1v1h-1zM429 351h1v1h-1zM442 343h1v1h-1zM425 356h1v1h-1zM442 338h1v1h-1zM422 354h1v1h-1zM427 348h1v1h-1zM423 349h1v1h-1zM437 347h1v1h-1zM422 360h1v1h-1zM427 350h1v1h-1zM423 354h1v1h-1zM428 347h1v1h-1zM431 346h1v1h-1zM434 346h1v1h-1zM436 344h1v1h-1zM421 347h1v1h-1zM434 344h1v1h-1zM420 352h1v1h-1zM424 356h1v1h-1zM431 345h1v1h-1zM424 354h1v1h-1zM420 360h1v1h-1zM423 350h1v1h-1zM420 351h1v1h-1zM423 352h1v1h-1zM427 356h1v1h-1zM425 345h1v1h-1zM426 360h1v1h-1zM424 349h1v1h-1zM435 350h1v1h-1zM427 357h1v1h-1zM430 340h1v1h-1zM436 343h1v1h-1zM424 355h1v1h-1zM439 344h1v1h-1zM432 351h1v1h-1zM426 356h1v1h-1zM438 341h1v1h-1zM435 349h1v1h-1zM432 350h1v1h-1zM424 361h1v1h-1zM420 354h1v1h-1zM440 340h1v1h-1zM420 355h1v1h-1zM420 363h1v1h-1zM435 343h1v1h-1zM425 351h1v1h-1zM418 352h1v1h-1zM429 343h1v1h-1zM433 349h1v1h-1zM432 349h1v1h-1zM426 350h1v1h-1zM426 355h1v1h-1zM433 352h1v1h-1zM433 351h1v1h-1zM425 353h1v1h-1zM425 342h1v1h-1zM435 338h1v1h-1zM435 344h1v1h-1zM423 355h1v1h-1zM418 346h1v1h-1zM439 340h1v1h-1zM422 350h1v1h-1zM428 346h1v1h-1zM430 344h1v1h-1zM435 352h1v1h-1zM438 347h1v1h-1zM425 357h1v1h-1zM420 362h1v1h-1zM421 360h1v1h-1zM437 344h1v1h-1zM434 343h1v1h-1zM433 356h1v1h-1zM426 351h1v1h-1zM436 341h1v1h-1zM440 344h1v1h-1zM429 353h1v1h-1zM441 348h1v1h-1zM425 349h1v1h-1zM419 348h1v1h-1zM425 359h1v1h-1zM422 361h1v1h-1zM418 356h1v1h-1zM434 351h1v1h-1zM416 358h1v1h-1zM423 348h1v1h-1zM416 349h1v1h-1zM436 345h1v1h-1zM445 330h1v1h-1zM414 355h1v1h-1zM438 339h1v1h-1zM417 347h1v1h-1zM437 346h1v1h-1zM434 349h1v1h-1zM429 355h1v1h-1zM430 353h1v1h-1zM423 358h1v1h-1zM450 330h1v1h-1zM434 355h1v1h-1zM451 321h1v1h-1zM451 328h1v1h-1zM465 294h1v1h-1zM456 292h1v1h-1zM461 297h1v1h-1zM460 299h1v1h-1zM457 297h1v1h-1zM459 295h1v1h-1zM466 295h1v1h-1zM454 293h1v1h-1zM460 295h1v1h-1zM461 296h1v1h-1zM460 294h1v1h-1zM465 297h1v1h-1zM467 289h1v1h-1zM465 290h1v1h-1zM453 293h1v1h-1zM455 293h1v1h-1zM456 295h1v1h-1zM462 297h1v1h-1zM462 300h1v1h-1zM464 297h1v1h-1zM454 297h1v1h-1zM458 294h1v1h-1zM456 297h1v1h-1zM458 295h1v1h-1zM468 294h1v1h-1zM458 292h1v1h-1zM449 301h1v1h-1zM458 291h1v1h-1zM452 295h1v1h-1zM452 294h1v1h-1zM453 298h1v1h-1zM462 293h1v1h-1zM456 293h1v1h-1zM446 295h1v1h-1zM458 296h1v1h-1zM457 291h1v1h-1zM466 293h1v1h-1zM460 297h1v1h-1zM454 295h1v1h-1zM460 291h1v1h-1zM445 298h1v1h-1zM453 297h1v1h-1zM454 292h1v1h-1zM459 293h1v1h-1zM455 294h1v1h-1zM453 299h1v1h-1zM449 302h1v1h-1zM457 293h1v1h-1zM461 294h1v1h-1zM452 298h1v1h-1zM462 291h1v1h-1zM448 298h1v1h-1zM466 300h1v1h-1zM457 292h1v1h-1zM462 294h1v1h-1zM463 298h1v1h-1zM460 292h1v1h-1zM458 293h1v1h-1zM454 294h1v1h-1zM459 300h1v1h-1zM465 293h1v1h-1zM464 296h1v1h-1zM454 296h1v1h-1zM454 298h1v1h-1zM464 292h1v1h-1zM457 298h1v1h-1zM463 299h1v1h-1zM457 296h1v1h-1zM455 298h1v1h-1zM458 297h1v1h-1zM467 295h1v1h-1zM460 296h1v1h-1zM457 295h1v1h-1zM455 295h1v1h-1zM462 298h1v1h-1zM465 296h1v1h-1zM462 296h1v1h-1zM451 292h1v1h-1zM458 298h1v1h-1zM459 298h1v1h-1zM463 295h1v1h-1zM466 292h1v1h-1zM456 294h1v1h-1zM459 294h1v1h-1zM463 297h1v1h-1zM458 299h1v1h-1zM459 296h1v1h-1zM453 295h1v1h-1zM456 298h1v1h-1zM457 290h1v1h-1zM461 295h1v1h-1zM455 296h1v1h-1zM454 299h1v1h-1zM458 300h1v1h-1zM460 293h1v1h-1zM459 291h1v1h-1zM462 299h1v1h-1zM449 291h1v1h-1zM461 299h1v1h-1zM453 290h1v1h-1zM459 301h1v1h-1zM467 293h1v1h-1zM453 296h1v1h-1zM452 299h1v1h-1zM461 292h1v1h-1zM458 287h1v1h-1zM469 292h1v1h-1zM459 290h1v1h-1zM455 300h1v1h-1zM463 291h1v1h-1zM459 292h1v1h-1zM456 296h1v1h-1zM456 291h1v1h-1zM451 299h1v1h-1zM462 295h1v1h-1zM451 296h1v1h-1zM447 294h1v1h-1zM456 300h1v1h-1zM449 296h1v1h-1zM468 297h1v1h-1zM460 300h1v1h-1zM472 300h1v1h-1zM453 324h1v1h-1zM459 321h1v1h-1zM458 326h1v1h-1zM452 325h1v1h-1zM457 323h1v1h-1zM456 328h1v1h-1zM454 325h1v1h-1zM456 327h1v1h-1zM453 325h1v1h-1zM452 326h1v1h-1zM452 328h1v1h-1zM455 330h1v1h-1zM455 324h1v1h-1zM458 322h1v1h-1zM449 328h1v1h-1zM446 327h1v1h-1zM460 323h1v1h-1zM457 318h1v1h-1zM456 325h1v1h-1zM453 326h1v1h-1zM451 330h1v1h-1zM457 328h1v1h-1zM461 327h1v1h-1zM449 322h1v1h-1zM455 327h1v1h-1zM457 324h1v1h-1zM450 327h1v1h-1zM453 327h1v1h-1zM449 327h1v1h-1zM452 327h1v1h-1zM455 328h1v1h-1zM455 322h1v1h-1zM450 324h1v1h-1zM448 327h1v1h-1zM461 325h1v1h-1zM459 322h1v1h-1zM467 322h1v1h-1zM466 318h1v1h-1zM465 318h1v1h-1zM461 319h1v1h-1zM456 320h1v1h-1zM469 319h1v1h-1zM467 317h1v1h-1zM460 317h1v1h-1zM467 318h1v1h-1zM459 317h1v1h-1zM474 319h1v1h-1z"/>
<path fill="#666" d="M419 354h1v1h-1zM449 341h1v1h-1zM411 355h1v1h-1zM434 354h1v1h-1zM439 345h1v1h-1zM420 357h1v1h-1zM413 358h1v1h-1zM413 357h1v1h-1zM421 343h1v1h-1zM423 346h1v1h-1zM422 363h1v1h-1zM431 357h1v1h-1zM443 351h1v1h-1zM417 353h1v1h-1zM443 333h1v1h-1zM441 336h1v1h-1zM412 355h1v1h-1zM433 359h1v1h-1zM429 342h1v1h-1zM432 357h1v1h-1zM431 359h1v1h-1zM419 364h1v1h-1zM429 339h1v1h-1zM428 342h1v1h-1zM437 342h1v1h-1zM443 340h1v1h-1zM428 338h1v1h-1zM411 363h1v1h-1zM444 341h1v1h-1zM425 362h1v1h-1zM416 364h1v1h-1zM421 352h1v1h-1zM420 358h1v1h-1zM443 334h1v1h-1zM434 356h1v1h-1zM419 346h1v1h-1zM438 346h1v1h-1zM439 357h1v1h-1zM430 338h1v1h-1zM441 351h1v1h-1zM422 348h1v1h-1zM438 355h1v1h-1zM418 364h1v1h-1zM417 351h1v1h-1zM417 354h1v1h-1zM426 336h1v1h-1zM437 354h1v1h-1zM414 365h1v1h-1zM428 340h1v1h-1zM429 346h1v1h-1zM431 343h1v1h-1zM415 357h1v1h-1zM414 357h1v1h-1zM432 360h1v1h-1zM429 359h1v1h-1zM430 341h1v1h-1zM441 353h1v1h-1zM429 335h1v1h-1zM426 358h1v1h-1zM435 357h1v1h-1zM412 359h1v1h-1zM416 350h1v1h-1zM436 349h1v1h-1zM428 360h1v1h-1zM416 356h1v1h-1zM438 348h1v1h-1zM443 345h1v1h-1zM415 349h1v1h-1zM429 340h1v1h-1zM414 361h1v1h-1zM446 336h1v1h-1zM425 343h1v1h-1zM440 341h1v1h-1zM437 351h1v1h-1zM414 356h1v1h-1zM419 350h1v1h-1zM437 353h1v1h-1zM433 355h1v1h-1zM415 359h1v1h-1zM426 338h1v1h-1zM423 340h1v1h-1zM435 360h1v1h-1zM419 344h1v1h-1zM433 337h1v1h-1zM436 351h1v1h-1zM432 332h1v1h-1zM424 346h1v1h-1zM424 364h1v1h-1zM428 336h1v1h-1zM431 337h1v1h-1zM438 337h1v1h-1zM444 346h1v1h-1zM415 351h1v1h-1zM415 350h1v1h-1zM434 340h1v1h-1zM424 345h1v1h-1zM427 343h1v1h-1zM436 354h1v1h-1zM431 358h1v1h-1zM433 336h1v1h-1zM437 334h1v1h-1zM438 344h1v1h-1zM434 332h1v1h-1zM416 352h1v1h-1zM417 352h1v1h-1zM411 352h1v1h-1zM429 341h1v1h-1zM414 349h1v1h-1zM426 364h1v1h-1zM416 355h1v1h-1zM435 333h1v1h-1zM421 364h1v1h-1zM420 349h1v1h-1zM424 347h1v1h-1zM435 339h1v1h-1zM432 339h1v1h-1zM423 342h1v1h-1zM413 364h1v1h-1zM433 357h1v1h-1zM417 345h1v1h-1zM425 363h1v1h-1zM430 354h1v1h-1zM427 339h1v1h-1zM421 345h1v1h-1zM416 361h1v1h-1zM428 363h1v1h-1zM425 339h1v1h-1zM429 361h1v1h-1zM440 342h1v1h-1zM445 333h1v1h-1zM422 362h1v1h-1zM425 361h1v1h-1zM418 357h1v1h-1zM412 357h1v1h-1zM440 350h1v1h-1zM429 349h1v1h-1zM419 362h1v1h-1zM429 358h1v1h-1zM438 340h1v1h-1zM415 354h1v1h-1zM418 361h1v1h-1zM419 349h1v1h-1zM445 339h1v1h-1zM416 357h1v1h-1zM413 363h1v1h-1zM414 364h1v1h-1zM438 336h1v1h-1zM426 337h1v1h-1zM433 339h1v1h-1zM438 342h1v1h-1zM426 343h1v1h-1zM436 358h1v1h-1zM418 359h1v1h-1zM415 360h1v1h-1zM439 350h1v1h-1zM412 353h1v1h-1zM444 345h1v1h-1zM429 336h1v1h-1zM443 335h1v1h-1zM415 335h1v1h-1zM437 349h1v1h-1zM441 349h1v1h-1zM442 330h1v1h-1zM439 360h1v1h-1zM445 351h1v1h-1zM447 329h1v1h-1zM456 341h1v1h-1zM432 340h1v1h-1zM422 356h1v1h-1zM437 329h1v1h-1zM414 345h1v1h-1zM449 359h1v1h-1zM431 338h1v1h-1zM415 358h1v1h-1zM418 350h1v1h-1zM436 335h1v1h-1zM436 356h1v1h-1zM430 343h1v1h-1zM445 337h1v1h-1zM432 327h1v1h-1zM424 336h1v1h-1zM444 332h1v1h-1zM416 353h1v1h-1zM435 359h1v1h-1zM413 345h1v1h-1zM413 356h1v1h-1zM440 351h1v1h-1zM442 334h1v1h-1zM438 338h1v1h-1zM443 350h1v1h-1zM415 361h1v1h-1zM426 340h1v1h-1zM433 354h1v1h-1zM448 332h1v1h-1zM445 338h1v1h-1zM442 344h1v1h-1zM437 341h1v1h-1zM426 353h1v1h-1zM439 335h1v1h-1zM411 359h1v1h-1zM440 336h1v1h-1zM438 350h1v1h-1zM437 336h1v1h-1zM442 341h1v1h-1zM435 335h1v1h-1zM416 347h1v1h-1zM441 350h1v1h-1zM422 340h1v1h-1zM444 342h1v1h-1zM440 332h1v1h-1zM442 332h1v1h-1zM444 338h1v1h-1zM430 362h1v1h-1zM426 365h1v1h-1zM437 357h1v1h-1zM441 345h1v1h-1zM443 336h1v1h-1zM429 365h1v1h-1zM427 328h1v1h-1zM452 342h1v1h-1zM415 345h1v1h-1zM454 337h1v1h-1zM425 360h1v1h-1zM425 364h1v1h-1zM444 352h1v1h-1zM428 361h1v1h-1zM444 347h1v1h-1zM436 334h1v1h-1zM449 345h1v1h-1zM437 359h1v1h-1zM448 347h1v1h-1zM435 331h1v1h-1zM412 361h1v1h-1zM439 362h1v1h-1zM437 363h1v1h-1zM444 340h1v1h-1zM414 350h1v1h-1zM446 346h1v1h-1zM439 337h1v1h-1zM447 353h1v1h-1zM426 362h1v1h-1zM426 341h1v1h-1zM429 360h1v1h-1zM453 344h1v1h-1zM437 333h1v1h-1zM420 350h1v1h-1zM424 365h1v1h-1zM435 336h1v1h-1zM416 341h1v1h-1zM425 336h1v1h-1zM430 363h1v1h-1zM416 365h1v1h-1zM432 359h1v1h-1zM416 342h1v1h-1zM413 359h1v1h-1zM436 359h1v1h-1zM430 350h1v1h-1zM417 341h1v1h-1zM420 345h1v1h-1zM436 333h1v1h-1zM422 364h1v1h-1zM440 347h1v1h-1zM433 360h1v1h-1zM413 351h1v1h-1zM457 288h1v1h-1zM472 293h1v1h-1zM444 297h1v1h-1zM472 299h1v1h-1zM445 301h1v1h-1zM463 288h1v1h-1zM461 301h1v1h-1zM467 292h1v1h-1zM464 295h1v1h-1zM461 291h1v1h-1zM463 296h1v1h-1zM453 304h1v1h-1zM465 298h1v1h-1zM475 292h1v1h-1zM470 288h1v1h-1zM450 302h1v1h-1zM449 290h1v1h-1zM464 304h1v1h-1zM474 297h1v1h-1zM444 298h1v1h-1zM448 302h1v1h-1zM452 302h1v1h-1zM446 292h1v1h-1zM461 298h1v1h-1zM440 294h1v1h-1zM466 286h1v1h-1zM469 293h1v1h-1zM461 288h1v1h-1zM464 294h1v1h-1zM450 292h1v1h-1zM468 288h1v1h-1zM472 292h1v1h-1zM469 291h1v1h-1zM472 290h1v1h-1zM468 293h1v1h-1zM464 289h1v1h-1zM454 305h1v1h-1zM467 288h1v1h-1zM447 297h1v1h-1zM452 288h1v1h-1zM465 295h1v1h-1zM461 302h1v1h-1zM466 288h1v1h-1zM466 302h1v1h-1zM446 305h1v1h-1zM454 304h1v1h-1zM460 285h1v1h-1zM447 296h1v1h-1zM453 300h1v1h-1zM460 289h1v1h-1zM445 302h1v1h-1zM459 285h1v1h-1zM448 295h1v1h-1zM452 300h1v1h-1zM447 292h1v1h-1zM446 301h1v1h-1zM452 301h1v1h-1zM451 293h1v1h-1zM449 293h1v1h-1zM464 301h1v1h-1zM443 299h1v1h-1zM470 285h1v1h-1zM451 294h1v1h-1zM459 289h1v1h-1zM445 292h1v1h-1zM468 291h1v1h-1zM464 300h1v1h-1zM468 292h1v1h-1zM451 301h1v1h-1zM453 301h1v1h-1zM464 290h1v1h-1zM451 303h1v1h-1zM451 307h1v1h-1zM459 286h1v1h-1zM464 284h1v1h-1zM448 287h1v1h-1zM440 298h1v1h-1zM450 297h1v1h-1zM446 294h1v1h-1zM449 298h1v1h-1zM447 300h1v1h-1zM446 297h1v1h-1zM448 292h1v1h-1zM465 299h1v1h-1zM454 288h1v1h-1zM447 295h1v1h-1zM457 294h1v1h-1zM451 302h1v1h-1zM446 296h1v1h-1zM454 286h1v1h-1zM474 295h1v1h-1zM466 290h1v1h-1zM456 290h1v1h-1zM467 294h1v1h-1zM466 298h1v1h-1zM468 295h1v1h-1zM462 290h1v1h-1zM468 300h1v1h-1zM466 305h1v1h-1zM468 299h1v1h-1zM463 290h1v1h-1zM451 295h1v1h-1zM457 301h1v1h-1zM443 297h1v1h-1zM450 293h1v1h-1zM457 303h1v1h-1zM451 288h1v1h-1zM448 294h1v1h-1zM479 286h1v1h-1zM474 302h1v1h-1zM457 310h1v1h-1zM477 293h1v1h-1zM467 299h1v1h-1zM467 304h1v1h-1zM456 303h1v1h-1zM445 288h1v1h-1zM469 289h1v1h-1zM477 302h1v1h-1zM473 296h1v1h-1zM467 298h1v1h-1zM466 304h1v1h-1zM477 298h1v1h-1zM472 305h1v1h-1zM478 299h1v1h-1zM465 292h1v1h-1zM476 291h1v1h-1zM448 285h1v1h-1zM445 291h1v1h-1zM447 298h1v1h-1zM487 296h1v1h-1zM447 287h1v1h-1zM450 308h1v1h-1zM474 307h1v1h-1zM463 306h1v1h-1zM460 303h1v1h-1zM435 290h1v1h-1zM478 298h1v1h-1zM474 290h1v1h-1zM446 299h1v1h-1zM452 304h1v1h-1zM454 291h1v1h-1zM451 297h1v1h-1zM450 286h1v1h-1zM430 306h1v1h-1zM463 302h1v1h-1zM455 301h1v1h-1zM477 287h1v1h-1zM455 286h1v1h-1zM460 298h1v1h-1zM470 311h1v1h-1zM469 308h1v1h-1zM484 284h1v1h-1zM448 299h1v1h-1zM461 300h1v1h-1zM449 294h1v1h-1zM454 289h1v1h-1zM476 302h1v1h-1zM485 297h1v1h-1zM458 309h1v1h-1zM478 293h1v1h-1zM457 305h1v1h-1zM477 309h1v1h-1zM475 289h1v1h-1zM473 298h1v1h-1zM464 282h1v1h-1zM466 306h1v1h-1zM473 295h1v1h-1zM468 303h1v1h-1zM463 304h1v1h-1zM451 291h1v1h-1zM444 291h1v1h-1zM475 296h1v1h-1zM480 292h1v1h-1zM450 294h1v1h-1zM455 311h1v1h-1zM453 285h1v1h-1zM487 297h1v1h-1zM446 300h1v1h-1zM487 305h1v1h-1zM454 309h1v1h-1zM475 303h1v1h-1zM473 290h1v1h-1zM468 290h1v1h-1zM458 290h1v1h-1zM459 303h1v1h-1zM466 289h1v1h-1zM470 287h1v1h-1zM463 300h1v1h-1zM455 305h1v1h-1zM448 290h1v1h-1zM461 304h1v1h-1zM452 283h1v1h-1zM475 294h1v1h-1zM474 303h1v1h-1zM454 302h1v1h-1zM446 288h1v1h-1zM469 288h1v1h-1zM460 306h1v1h-1zM443 302h1v1h-1zM465 305h1v1h-1zM475 297h1v1h-1zM435 307h1v1h-1zM453 330h1v1h-1zM445 327h1v1h-1zM450 319h1v1h-1zM448 319h1v1h-1zM461 320h1v1h-1zM453 328h1v1h-1zM448 334h1v1h-1zM452 322h1v1h-1zM460 321h1v1h-1zM455 319h1v1h-1zM463 323h1v1h-1zM439 325h1v1h-1zM444 328h1v1h-1zM440 326h1v1h-1zM446 335h1v1h-1zM458 323h1v1h-1zM445 326h1v1h-1zM438 325h1v1h-1zM460 324h1v1h-1zM457 325h1v1h-1zM439 333h1v1h-1zM459 324h1v1h-1zM451 329h1v1h-1zM448 330h1v1h-1zM446 329h1v1h-1zM447 330h1v1h-1zM451 326h1v1h-1zM450 318h1v1h-1zM450 331h1v1h-1zM456 318h1v1h-1zM451 331h1v1h-1zM454 321h1v1h-1zM446 324h1v1h-1zM454 324h1v1h-1zM448 323h1v1h-1zM450 321h1v1h-1zM450 329h1v1h-1zM447 321h1v1h-1zM455 329h1v1h-1zM447 327h1v1h-1zM457 327h1v1h-1zM447 320h1v1h-1zM449 329h1v1h-1zM443 328h1v1h-1zM445 325h1v1h-1zM455 320h1v1h-1zM458 328h1v1h-1zM446 326h1v1h-1zM456 331h1v1h-1zM458 317h1v1h-1zM459 319h1v1h-1zM455 326h1v1h-1zM448 328h1v1h-1zM437 324h1v1h-1zM446 322h1v1h-1zM448 333h1v1h-1zM458 327h1v1h-1zM442 326h1v1h-1zM447 326h1v1h-1zM448 322h1v1h-1zM454 332h1v1h-1zM446 328h1v1h-1zM443 327h1v1h-1zM451 333h1v1h-1zM451 325h1v1h-1zM458 330h1v1h-1zM450 323h1v1h-1zM451 324h1v1h-1zM446 334h1v1h-1zM450 328h1v1h-1zM453 321h1v1h-1zM452 317h1v1h-1zM448 329h1v1h-1zM462 327h1v1h-1zM451 327h1v1h-1zM457 321h1v1h-1zM444 324h1v1h-1zM453 329h1v1h-1zM452 332h1v1h-1zM453 335h1v1h-1zM459 327h1v1h-1zM443 330h1v1h-1zM457 326h1v1h-1zM471 323h1v1h-1zM472 321h1v1h-1zM461 329h1v1h-1zM458 325h1v1h-1zM470 322h1v1h-1zM468 325h1v1h-1zM453 319h1v1h-1zM473 322h1v1h-1zM465 319h1v1h-1zM460 315h1v1h-1zM464 324h1v1h-1zM459 323h1v1h-1zM473 311h1v1h-1zM473 320h1v1h-1zM469 318h1v1h-1zM460 325h1v1h-1zM475 325h1v1h-1zM476 320h1v1h-1zM446 325h1v1h-1zM464 320h1v1h-1zM480 317h1v1h-1zM464 321h1v1h-1zM462 324h1v1h-1zM457 320h1v1h-1zM447 324h1v1h-1zM468 314h1v1h-1zM463 315h1v1h-1zM474 318h1v1h-1zM464 327h1v1h-1zM462 316h1v1h-1zM479 317h1v1h-1zM469 317h1v1h-1zM467 311h1v1h-1zM468 322h1v1h-1zM466 317h1v1h-1zM475 313h1v1h-1zM473 308h1v1h-1zM453 318h1v1h-1zM460 320h1v1h-1zM477 327h1v1h-1zM474 313h1v1h-1zM476 311h1v1h-1zM467 325h1v1h-1zM454 322h1v1h-1zM460 322h1v1h-1zM473 325h1v1h-1zM462 326h1v1h-1zM481 314h1v1h-1zM455 331h1v1h-1zM461 310h1v1h-1zM455 318h1v1h-1zM464 318h1v1h-1zM454 316h1v1h-1zM456 319h1v1h-1zM472 318h1v1h-1zM464 319h1v1h-1zM482 311h1v1h-1zM463 327h1v1h-1zM471 322h1v1h-1zM479 311h1v1h-1zM473 319h1v1h-1zM464 314h1v1h-1zM463 321h1v1h-1zM472 320h1v1h-1zM461 322h1v1h-1zM468 324h1v1h-1zM475 320h1v1h-1zM469 328h1v1h-1zM457 322h1v1h-1zM454 327h1v1h-1zM468 316h1v1h-1zM454 328h1v1h-1zM461 315h1v1h-1zM473 316h1v1h-1zM471 321h1v1h-1zM471 318h1v1h-1zM467 330h1v1h-1zM474 317h1v1h-1zM464 325h1v1h-1zM448 325h1v1h-1zM463 322h1v1h-1zM470 324h1v1h-1zM463 319h1v1h-1zM460 316h1v1h-1zM450 316h1v1h-1zM475 317h1v1h-1zM481 317h1v1h-1zM473 324h1v1h-1zM472 322h1v1h-1zM444 331h1v1h-1zM469 324h1v1h-1zM462 318h1v1h-1zM465 316h1v1h-1zM458 333h1v1h-1zM473 310h1v1h-1zM488 315h1v1h-1zM471 315h1v1h-1zM466 315h1v1h-1zM474 316h1v1h-1zM462 325h1v1h-1zM467 315h1v1h-1zM476 316h1v1h-1zM467 320h1v1h-1zM475 314h1v1h-1zM476 314h1v1h-1zM452 315h1v1h-1zM437 323h1v1h-1zM429 330h1v1h-1zM423 307h1v1h-1zM433 312h1v1h-1zM435 329h1v1h-1zM438 321h1v1h-1zM433 329h1v1h-1zM431 303h1v1h-1zM419 311h1v1h-1zM423 296h1v1h-1zM434 329h1v1h-1zM434 316h1v1h-1zM424 292h1v1h-1zM421 295h1v1h-1zM437 298h1v1h-1zM438 306h1v1h-1zM438 319h1v1h-1zM446 293h1v1h-1zM443 295h1v1h-1zM434 317h1v1h-1zM437 303h1v1h-1zM439 315h1v1h-1zM422 299h1v1h-1zM424 298h1v1h-1zM436 310h1v1h-1zM444 327h1v1h-1zM435 327h1v1h-1zM441 314h1v1h-1zM428 293h1v1h-1zM425 310h1v1h-1zM444 329h1v1h-1zM442 310h1v1h-1zM440 320h1v1h-1zM443 329h1v1h-1zM429 297h1v1h-1zM428 302h1v1h-1zM437 315h1v1h-1zM444 293h1v1h-1zM429 314h1v1h-1zM430 296h1v1h-1zM437 304h1v1h-1zM423 293h1v1h-1zM431 294h1v1h-1zM432 295h1v1h-1zM421 308h1v1h-1zM422 313h1v1h-1zM445 314h1v1h-1zM424 309h1v1h-1zM431 327h1v1h-1zM421 300h1v1h-1zM439 321h1v1h-1zM445 303h1v1h-1zM433 304h1v1h-1zM421 316h1v1h-1zM433 317h1v1h-1zM420 306h1v1h-1zM418 320h1v1h-1zM440 309h1v1h-1zM444 312h1v1h-1zM425 292h1v1h-1zM419 312h1v1h-1zM436 304h1v1h-1zM431 311h1v1h-1zM446 315h1v1h-1zM441 313h1v1h-1zM441 322h1v1h-1zM432 313h1v1h-1zM441 318h1v1h-1zM428 298h1v1h-1zM422 298h1v1h-1zM435 292h1v1h-1zM438 332h1v1h-1zM427 295h1v1h-1zM421 304h1v1h-1zM438 323h1v1h-1zM434 327h1v1h-1zM434 322h1v1h-1zM428 297h1v1h-1zM426 328h1v1h-1zM427 312h1v1h-1zM432 312h1v1h-1zM429 319h1v1h-1zM430 308h1v1h-1zM439 314h1v1h-1zM427 300h1v1h-1zM421 303h1v1h-1zM425 326h1v1h-1zM435 328h1v1h-1zM428 319h1v1h-1zM441 300h1v1h-1zM446 314h1v1h-1zM432 311h1v1h-1zM439 306h1v1h-1zM433 309h1v1h-1zM425 328h1v1h-1zM427 322h1v1h-1zM442 315h1v1h-1zM432 317h1v1h-1zM422 312h1v1h-1zM434 312h1v1h-1zM440 307h1v1h-1zM436 311h1v1h-1zM438 330h1v1h-1zM426 310h1v1h-1zM419 321h1v1h-1zM420 316h1v1h-1zM431 328h1v1h-1zM432 299h1v1h-1zM439 316h1v1h-1zM423 294h1v1h-1zM426 330h1v1h-1zM442 302h1v1h-1zM431 325h1v1h-1zM423 313h1v1h-1zM425 312h1v1h-1zM428 294h1v1h-1zM424 326h1v1h-1zM442 294h1v1h-1zM423 322h1v1h-1zM433 303h1v1h-1zM423 323h1v1h-1zM444 307h1v1h-1zM438 294h1v1h-1zM477 305h1v1h-1zM466 308h1v1h-1zM452 305h1v1h-1zM466 310h1v1h-1zM467 313h1v1h-1zM475 301h1v1h-1zM474 315h1v1h-1zM481 309h1v1h-1zM471 309h1v1h-1zM478 303h1v1h-1zM479 302h1v1h-1zM467 314h1v1h-1zM480 305h1v1h-1zM450 313h1v1h-1zM479 299h1v1h-1zM465 312h1v1h-1zM470 306h1v1h-1zM468 317h1v1h-1zM475 307h1v1h-1zM471 299h1v1h-1zM455 306h1v1h-1zM477 301h1v1h-1zM470 299h1v1h-1zM458 304h1v1h-1zM469 311h1v1h-1zM452 308h1v1h-1zM455 312h1v1h-1zM458 307h1v1h-1zM479 309h1v1h-1zM450 306h1v1h-1zM453 317h1v1h-1zM471 308h1v1h-1zM452 311h1v1h-1zM449 314h1v1h-1zM472 311h1v1h-1zM481 306h1v1h-1zM472 303h1v1h-1zM471 313h1v1h-1zM449 305h1v1h-1zM463 312h1v1h-1zM478 310h1v1h-1zM490 346h1v1h-1zM473 344h1v1h-1zM483 358h1v1h-1zM476 346h1v1h-1zM477 340h1v1h-1zM484 338h1v1h-1zM485 345h1v1h-1zM463 362h1v1h-1zM469 338h1v1h-1zM489 345h1v1h-1zM470 345h1v1h-1zM475 362h1v1h-1zM474 361h1v1h-1z"/>
<path fill="#3a3a3a" d="M441 338h1v1h-1zM424 362h1v1h-1zM421 351h1v1h-1zM435 355h1v1h-1zM418 347h1v1h-1zM421 349h1v1h-1zM417 346h1v1h-1zM428 344h1v1h-1zM413 355h1v1h-1zM440 348h1v1h-1zM431 352h1v1h-1zM417 358h1v1h-1zM414 359h1v1h-1zM423 344h1v1h-1zM421 350h1v1h-1zM419 353h1v1h-1zM431 353h1v1h-1zM418 360h1v1h-1zM419 359h1v1h-1zM434 352h1v1h-1zM422 347h1v1h-1zM442 342h1v1h-1zM441 334h1v1h-1zM434 341h1v1h-1zM419 358h1v1h-1zM431 344h1v1h-1zM432 336h1v1h-1zM430 361h1v1h-1zM431 351h1v1h-1zM423 351h1v1h-1zM441 344h1v1h-1zM439 351h1v1h-1zM416 360h1v1h-1zM422 344h1v1h-1zM435 348h1v1h-1zM439 347h1v1h-1zM437 352h1v1h-1zM424 358h1v1h-1zM439 352h1v1h-1zM411 360h1v1h-1zM428 343h1v1h-1zM419 360h1v1h-1zM424 352h1v1h-1zM434 337h1v1h-1zM434 342h1v1h-1zM436 353h1v1h-1zM420 348h1v1h-1zM424 360h1v1h-1zM431 360h1v1h-1zM420 361h1v1h-1zM419 361h1v1h-1zM416 351h1v1h-1zM417 350h1v1h-1zM418 358h1v1h-1zM432 354h1v1h-1zM427 360h1v1h-1zM432 356h1v1h-1zM441 340h1v1h-1zM430 336h1v1h-1zM433 340h1v1h-1zM446 332h1v1h-1zM436 352h1v1h-1zM413 362h1v1h-1zM426 359h1v1h-1zM418 365h1v1h-1zM443 344h1v1h-1zM438 333h1v1h-1zM421 358h1v1h-1zM426 344h1v1h-1zM427 358h1v1h-1zM415 362h1v1h-1zM431 342h1v1h-1zM423 363h1v1h-1zM421 362h1v1h-1zM418 354h1v1h-1zM428 359h1v1h-1zM441 341h1v1h-1zM435 342h1v1h-1zM432 358h1v1h-1zM426 342h1v1h-1zM430 356h1v1h-1zM426 346h1v1h-1zM427 344h1v1h-1zM418 351h1v1h-1zM423 353h1v1h-1zM427 346h1v1h-1zM424 343h1v1h-1zM434 335h1v1h-1zM440 333h1v1h-1zM439 341h1v1h-1zM423 361h1v1h-1zM423 337h1v1h-1zM414 360h1v1h-1zM431 339h1v1h-1zM413 353h1v1h-1zM429 354h1v1h-1zM429 344h1v1h-1zM427 359h1v1h-1zM418 349h1v1h-1zM446 350h1v1h-1zM443 338h1v1h-1zM437 348h1v1h-1zM431 340h1v1h-1zM442 337h1v1h-1zM423 357h1v1h-1zM423 343h1v1h-1zM420 356h1v1h-1zM441 337h1v1h-1zM434 353h1v1h-1zM437 338h1v1h-1zM424 363h1v1h-1zM428 358h1v1h-1zM423 359h1v1h-1zM421 357h1v1h-1zM419 347h1v1h-1zM436 347h1v1h-1zM439 338h1v1h-1zM414 354h1v1h-1zM434 339h1v1h-1zM429 331h1v1h-1zM438 351h1v1h-1zM421 363h1v1h-1zM434 358h1v1h-1zM437 337h1v1h-1zM423 365h1v1h-1zM449 319h1v1h-1zM417 349h1v1h-1zM454 331h1v1h-1zM431 333h1v1h-1zM444 335h1v1h-1zM467 291h1v1h-1zM452 292h1v1h-1zM456 288h1v1h-1zM455 289h1v1h-1zM460 290h1v1h-1zM468 302h1v1h-1zM465 306h1v1h-1zM459 287h1v1h-1zM452 296h1v1h-1zM466 294h1v1h-1zM456 289h1v1h-1zM463 303h1v1h-1zM448 293h1v1h-1zM459 299h1v1h-1zM455 292h1v1h-1zM450 298h1v1h-1zM475 295h1v1h-1zM463 292h1v1h-1zM452 291h1v1h-1zM461 293h1v1h-1zM470 293h1v1h-1zM465 291h1v1h-1zM465 301h1v1h-1zM464 293h1v1h-1zM469 299h1v1h-1zM456 305h1v1h-1zM452 290h1v1h-1zM455 297h1v1h-1zM449 299h1v1h-1zM462 292h1v1h-1zM461 290h1v1h-1zM453 291h1v1h-1zM453 294h1v1h-1zM464 291h1v1h-1zM453 292h1v1h-1zM469 290h1v1h-1zM455 291h1v1h-1zM469 296h1v1h-1zM457 300h1v1h-1zM456 299h1v1h-1zM471 293h1v1h-1zM468 296h1v1h-1zM462 289h1v1h-1zM459 297h1v1h-1zM470 296h1v1h-1zM451 298h1v1h-1zM458 302h1v1h-1zM470 294h1v1h-1zM457 289h1v1h-1zM455 290h1v1h-1zM447 293h1v1h-1zM449 300h1v1h-1zM455 299h1v1h-1zM454 300h1v1h-1zM457 299h1v1h-1zM447 299h1v1h-1zM466 299h1v1h-1zM463 293h1v1h-1zM450 295h1v1h-1zM442 301h1v1h-1zM441 303h1v1h-1zM474 298h1v1h-1zM471 298h1v1h-1zM470 297h1v1h-1zM444 295h1v1h-1zM444 300h1v1h-1zM480 301h1v1h-1zM454 303h1v1h-1zM471 300h1v1h-1zM480 307h1v1h-1zM446 302h1v1h-1zM469 305h1v1h-1zM458 321h1v1h-1zM449 331h1v1h-1zM451 332h1v1h-1zM452 323h1v1h-1zM450 325h1v1h-1zM453 323h1v1h-1zM461 318h1v1h-1zM463 320h1v1h-1zM462 320h1v1h-1zM449 325h1v1h-1zM455 321h1v1h-1zM449 326h1v1h-1zM459 329h1v1h-1zM462 322h1v1h-1zM454 329h1v1h-1zM446 333h1v1h-1zM453 322h1v1h-1zM455 325h1v1h-1zM454 320h1v1h-1zM451 323h1v1h-1zM454 318h1v1h-1zM445 328h1v1h-1zM456 324h1v1h-1zM463 317h1v1h-1zM465 320h1v1h-1zM452 320h1v1h-1zM447 323h1v1h-1zM451 320h1v1h-1zM447 322h1v1h-1zM452 321h1v1h-1zM452 333h1v1h-1zM452 324h1v1h-1zM462 319h1v1h-1zM454 323h1v1h-1zM452 330h1v1h-1zM456 322h1v1h-1zM448 324h1v1h-1zM454 326h1v1h-1zM449 333h1v1h-1zM458 324h1v1h-1zM468 321h1v1h-1zM471 317h1v1h-1zM465 321h1v1h-1zM464 322h1v1h-1zM466 324h1v1h-1zM464 323h1v1h-1zM460 327h1v1h-1zM471 320h1v1h-1zM465 317h1v1h-1zM470 318h1v1h-1zM478 317h1v1h-1zM469 313h1v1h-1zM461 317h1v1h-1zM463 318h1v1h-1zM457 329h1v1h-1zM466 322h1v1h-1zM460 328h1v1h-1zM466 316h1v1h-1zM455 323h1v1h-1zM468 313h1v1h-1zM479 314h1v1h-1zM478 313h1v1h-1zM472 316h1v1h-1zM470 325h1v1h-1zM459 326h1v1h-1zM468 320h1v1h-1zM461 323h1v1h-1zM470 320h1v1h-1zM469 320h1v1h-1zM477 319h1v1h-1zM468 319h1v1h-1zM470 317h1v1h-1zM445 310h1v1h-1zM435 313h1v1h-1zM446 298h1v1h-1zM419 322h1v1h-1zM425 320h1v1h-1zM433 321h1v1h-1zM477 315h1v1h-1zM459 302h1v1h-1zM459 312h1v1h-1zM490 344h1v1h-1z"/></g>
<path d="M289 267.6H391.2V367H289Z" stroke="#222" stroke-width="1.1" fill="none"/>
<path d="M326.3 267.6V367M289 334.6H391.2" stroke="#222" stroke-width="1" fill="none"/>
<path d="M289 367h-2M289 367v2M289 359.52h-1.2M296.69 367v1.2M289 355.14h-1.2M301.19 367v1.2M289 352.04h-1.2M304.38 367v1.2M289 349.63h-1.2M306.86 367v1.2M289 347.66h-1.2M308.88 367v1.2M289 346h-1.2M310.59 367v1.2M289 344.56h-1.2M312.07 367v1.2M289 343.29h-1.2M313.38 367v1.2M289 342.15h-2M314.55 367v2M289 334.67h-1.2M322.24 367v1.2M289 330.29h-1.2M326.74 367v1.2M289 327.19h-1.2M329.93 367v1.2M289 324.78h-1.2M332.41 367v1.2M289 322.81h-1.2M334.43 367v1.2M289 321.15h-1.2M336.14 367v1.2M289 319.71h-1.2M337.62 367v1.2M289 318.44h-1.2M338.93 367v1.2M289 317.3h-2M340.1 367v2M289 309.82h-1.2M347.79 367v1.2M289 305.44h-1.2M352.29 367v1.2M289 302.34h-1.2M355.48 367v1.2M289 299.93h-1.2M357.96 367v1.2M289 297.96h-1.2M359.98 367v1.2M289 296.3h-1.2M361.69 367v1.2M289 294.86h-1.2M363.17 367v1.2M289 293.59h-1.2M364.48 367v1.2M289 292.45h-2M365.65 367v2M289 284.97h-1.2M373.34 367v1.2M289 280.59h-1.2M377.84 367v1.2M289 277.49h-1.2M381.03 367v1.2M289 275.08h-1.2M383.51 367v1.2M289 273.11h-1.2M385.53 367v1.2M289 271.45h-1.2M387.24 367v1.2M289 270.01h-1.2M388.72 367v1.2M289 268.74h-1.2M390.03 367v1.2" stroke="#333" stroke-width="0.7" fill="none"/>
<text transform="translate(283.8 367) rotate(-90)" font-family="Liberation Sans, sans-serif" font-size="6" text-anchor="middle" fill="#1a1a1a">10<tspan font-size="4.5" dy="-2.4">0</tspan></text>
<text x="290" y="375.2" font-family="Liberation Sans, sans-serif" font-size="6" text-anchor="middle" fill="#1a1a1a">10<tspan font-size="4.5" dy="-2.4">0</tspan></text>
<text transform="translate(283.8 342.15) rotate(-90)" font-family="Liberation Sans, sans-serif" font-size="6" text-anchor="middle" fill="#1a1a1a">10<tspan font-size="4.5" dy="-2.4">1</tspan></text>
<text x="315.55" y="375.2" font-family="Liberation Sans, sans-serif" font-size="6" text-anchor="middle" fill="#1a1a1a">10<tspan font-size="4.5" dy="-2.4">1</tspan></text>
<text transform="translate(283.8 317.3) rotate(-90)" font-family="Liberation Sans, sans-serif" font-size="6" text-anchor="middle" fill="#1a1a1a">10<tspan font-size="4.5" dy="-2.4">2</tspan></text>
<text x="341.1" y="375.2" font-family="Liberation Sans, sans-serif" font-size="6" text-anchor="middle" fill="#1a1a1a">10<tspan font-size="4.5" dy="-2.4">2</tspan></text>
<text transform="translate(283.8 292.45) rotate(-90)" font-family="Liberation Sans, sans-serif" font-size="6" text-anchor="middle" fill="#1a1a1a">10<tspan font-size="4.5" dy="-2.4">3</tspan></text>
<text x="366.65" y="375.2" font-family="Liberation Sans, sans-serif" font-size="6" text-anchor="middle" fill="#1a1a1a">10<tspan font-size="4.5" dy="-2.4">3</tspan></text>
<text transform="translate(283.8 267.6) rotate(-90)" font-family="Liberation Sans, sans-serif" font-size="6" text-anchor="middle" fill="#1a1a1a">10<tspan font-size="4.5" dy="-2.4">4</tspan></text>
<text x="392.2" y="375.2" font-family="Liberation Sans, sans-serif" font-size="6" text-anchor="middle" fill="#1a1a1a">10<tspan font-size="4.5" dy="-2.4">4</tspan></text>
<path d="M409.4 267.6H510.3V367H409.4Z" stroke="#222" stroke-width="1.1" fill="none"/>
<path d="M447.3 267.6V367M409.4 334H510.3" stroke="#222" stroke-width="1" fill="none"/>
<path d="M409.4 367h-2M409.4 367v2M409.4 359.52h-1.2M416.99 367v1.2M409.4 355.14h-1.2M421.44 367v1.2M409.4 352.04h-1.2M424.59 367v1.2M409.4 349.63h-1.2M427.03 367v1.2M409.4 347.66h-1.2M429.03 367v1.2M409.4 346h-1.2M430.72 367v1.2M409.4 344.56h-1.2M432.18 367v1.2M409.4 343.29h-1.2M433.47 367v1.2M409.4 342.15h-2M434.62 367v2M409.4 334.67h-1.2M442.22 367v1.2M409.4 330.29h-1.2M446.66 367v1.2M409.4 327.19h-1.2M449.81 367v1.2M409.4 324.78h-1.2M452.26 367v1.2M409.4 322.81h-1.2M454.25 367v1.2M409.4 321.15h-1.2M455.94 367v1.2M409.4 319.71h-1.2M457.41 367v1.2M409.4 318.44h-1.2M458.7 367v1.2M409.4 317.3h-2M459.85 367v2M409.4 309.82h-1.2M467.44 367v1.2M409.4 305.44h-1.2M471.89 367v1.2M409.4 302.34h-1.2M475.04 367v1.2M409.4 299.93h-1.2M477.48 367v1.2M409.4 297.96h-1.2M479.48 367v1.2M409.4 296.3h-1.2M481.17 367v1.2M409.4 294.86h-1.2M482.63 367v1.2M409.4 293.59h-1.2M483.92 367v1.2M409.4 292.45h-2M485.07 367v2M409.4 284.97h-1.2M492.67 367v1.2M409.4 280.59h-1.2M497.11 367v1.2M409.4 277.49h-1.2M500.26 367v1.2M409.4 275.08h-1.2M502.71 367v1.2M409.4 273.11h-1.2M504.7 367v1.2M409.4 271.45h-1.2M506.39 367v1.2M409.4 270.01h-1.2M507.86 367v1.2M409.4 268.74h-1.2M509.15 367v1.2" stroke="#333" stroke-width="0.7" fill="none"/>
<text transform="translate(404 367) rotate(-90)" font-family="Liberation Sans, sans-serif" font-size="6" text-anchor="middle" fill="#1a1a1a">10<tspan font-size="4.5" dy="-2.4">0</tspan></text>
<text x="410.4" y="375.2" font-family="Liberation Sans, sans-serif" font-size="6" text-anchor="middle" fill="#1a1a1a">10<tspan font-size="4.5" dy="-2.4">0</tspan></text>
<text transform="translate(404 342.15) rotate(-90)" font-family="Liberation Sans, sans-serif" font-size="6" text-anchor="middle" fill="#1a1a1a">10<tspan font-size="4.5" dy="-2.4">1</tspan></text>
<text x="435.62" y="375.2" font-family="Liberation Sans, sans-serif" font-size="6" text-anchor="middle" fill="#1a1a1a">10<tspan font-size="4.5" dy="-2.4">1</tspan></text>
<text transform="translate(404 317.3) rotate(-90)" font-family="Liberation Sans, sans-serif" font-size="6" text-anchor="middle" fill="#1a1a1a">10<tspan font-size="4.5" dy="-2.4">2</tspan></text>
<text x="460.85" y="375.2" font-family="Liberation Sans, sans-serif" font-size="6" text-anchor="middle" fill="#1a1a1a">10<tspan font-size="4.5" dy="-2.4">2</tspan></text>
<text transform="translate(404 292.45) rotate(-90)" font-family="Liberation Sans, sans-serif" font-size="6" text-anchor="middle" fill="#1a1a1a">10<tspan font-size="4.5" dy="-2.4">3</tspan></text>
<text x="486.07" y="375.2" font-family="Liberation Sans, sans-serif" font-size="6" text-anchor="middle" fill="#1a1a1a">10<tspan font-size="4.5" dy="-2.4">3</tspan></text>
<text transform="translate(404 267.6) rotate(-90)" font-family="Liberation Sans, sans-serif" font-size="6" text-anchor="middle" fill="#1a1a1a">10<tspan font-size="4.5" dy="-2.4">4</tspan></text>
<text x="511.3" y="375.2" font-family="Liberation Sans, sans-serif" font-size="6" text-anchor="middle" fill="#1a1a1a">10<tspan font-size="4.5" dy="-2.4">4</tspan></text>
<g font-family="Liberation Serif, serif" font-size="12.6" fill="#111" stroke="#111" stroke-width="0.28"><text x="328.6" y="259.5">med</text><text x="443.2" y="260.3">IL-23</text></g>
<path d="M276 267V376" stroke="#666" stroke-width="1.6"/>
<path d="M275.8 262.3L272.6 268.6H279Z" fill="#000"/>
<text transform="translate(269.3 315.3) rotate(-90)" font-family="Liberation Serif, serif" font-size="13" text-anchor="middle" fill="#111" stroke="#111" stroke-width="0.28">PI</text>
<path d="M282.4 380.5H508" stroke="#000" stroke-width="1.5"/>
<path d="M513.6 380.5L506 377.2V383.8Z" fill="#000"/>
<text x="371.2" y="398.7" font-family="Liberation Serif, serif" font-size="14.8" fill="#111" stroke="#111" stroke-width="0.28">Annexin V</text>
<path d="M138 499.26H374.4M138 520.37H374.4M138 541.48H374.4M138 562.59H374.4M138 583.7H374.4M138 604.81H374.4M138 625.92H374.4" stroke="#c4c4c4" stroke-width="1" fill="none"/>
<path d="M141.6 499.26V625.92" stroke="#b8b8b8" stroke-width="1" fill="none"/>
<rect x="150.8" y="583.7" width="16.42" height="20.7" fill="#c0c0c0" stroke="#3a3a3a" stroke-width="1"/>
<rect x="167.22" y="518.2" width="16.42" height="65.5" fill="#fff" stroke="#3a3a3a" stroke-width="1"/>
<rect x="183.65" y="551.2" width="16.42" height="32.5" fill="#fff" stroke="#3a3a3a" stroke-width="1"/>
<rect x="200.07" y="549.3" width="16.42" height="34.4" fill="#fff" stroke="#3a3a3a" stroke-width="1"/>
<rect x="216.49" y="574.7" width="16.42" height="9" fill="#fff" stroke="#3a3a3a" stroke-width="1"/>
<rect x="232.92" y="573.6" width="16.42" height="10.1" fill="#fff" stroke="#3a3a3a" stroke-width="1"/>
<rect x="249.34" y="578.3" width="16.42" height="5.4" fill="#fff" stroke="#3a3a3a" stroke-width="1"/>
<rect x="265.76" y="570.5" width="16.42" height="13.2" fill="#fff" stroke="#3a3a3a" stroke-width="1"/>
<rect x="282.18" y="572" width="16.42" height="11.7" fill="#fff" stroke="#3a3a3a" stroke-width="1"/>
<rect x="298.61" y="528.3" width="16.42" height="55.4" fill="#fff" stroke="#3a3a3a" stroke-width="1"/>
<rect x="315.03" y="570" width="16.42" height="13.7" fill="#fff" stroke="#3a3a3a" stroke-width="1"/>
<rect x="331.45" y="557.5" width="16.42" height="26.2" fill="#fff" stroke="#3a3a3a" stroke-width="1"/>
<rect x="347.88" y="540.8" width="16.42" height="42.9" fill="#fff" stroke="#3a3a3a" stroke-width="1"/>
<g font-family="Liberation Serif, serif" font-size="13" fill="#111" stroke="#111" stroke-width="0.28" text-anchor="end">
<text transform="translate(165.21 631.6) rotate(-90)">miR96</text>
<text transform="translate(181.63 631.6) rotate(-90)">miR122</text>
<text transform="translate(198.06 631.6) rotate(-90)">miR15a</text>
<text transform="translate(214.48 631.6) rotate(-90)">miR18b</text>
<text transform="translate(230.9 631.6) rotate(-90)">miRlet7g</text>
<text transform="translate(247.33 631.6) rotate(-90)">miRlet7c</text>
<text transform="translate(263.75 631.6) rotate(-90)">miRlet7e</text>
<text transform="translate(280.17 631.6) rotate(-90)">miR100</text>
<text transform="translate(296.6 631.6) rotate(-90)">miR155</text>
<text transform="translate(313.02 631.6) rotate(-90)">miRlet7i</text>
<text transform="translate(329.44 631.6) rotate(-90)">miR149</text>
<text transform="translate(345.87 631.6) rotate(-90)">miR23b</text>
<text transform="translate(362.29 631.6) rotate(-90)">miR203</text>
</g>
<g font-family="Liberation Serif, serif" font-weight="bold" font-size="10.5" fill="#111" stroke="#111" stroke-width="0.28" text-anchor="end">
<text x="133.2" y="502.86">80</text>
<text x="133.2" y="523.97">60</text>
<text x="133.2" y="545.08">40</text>
<text x="133.2" y="566.19">20</text>
<text x="133.2" y="587.3">0</text>
<text x="133.2" y="608.41">-20</text>
<text x="133.2" y="629.52">-40</text>
</g>
<g font-family="Liberation Serif, serif" font-size="13" fill="#111" stroke="#111" stroke-width="0.28" text-anchor="middle">
<text transform="translate(81.2 566.2) rotate(-90)">Fold differences</text>
<text transform="translate(97.5 566.2) rotate(-90)">IL-23/medium miRNA</text>
<text transform="translate(112.8 567) rotate(-90)">expression</text>
</g>
</svg></body></html>
